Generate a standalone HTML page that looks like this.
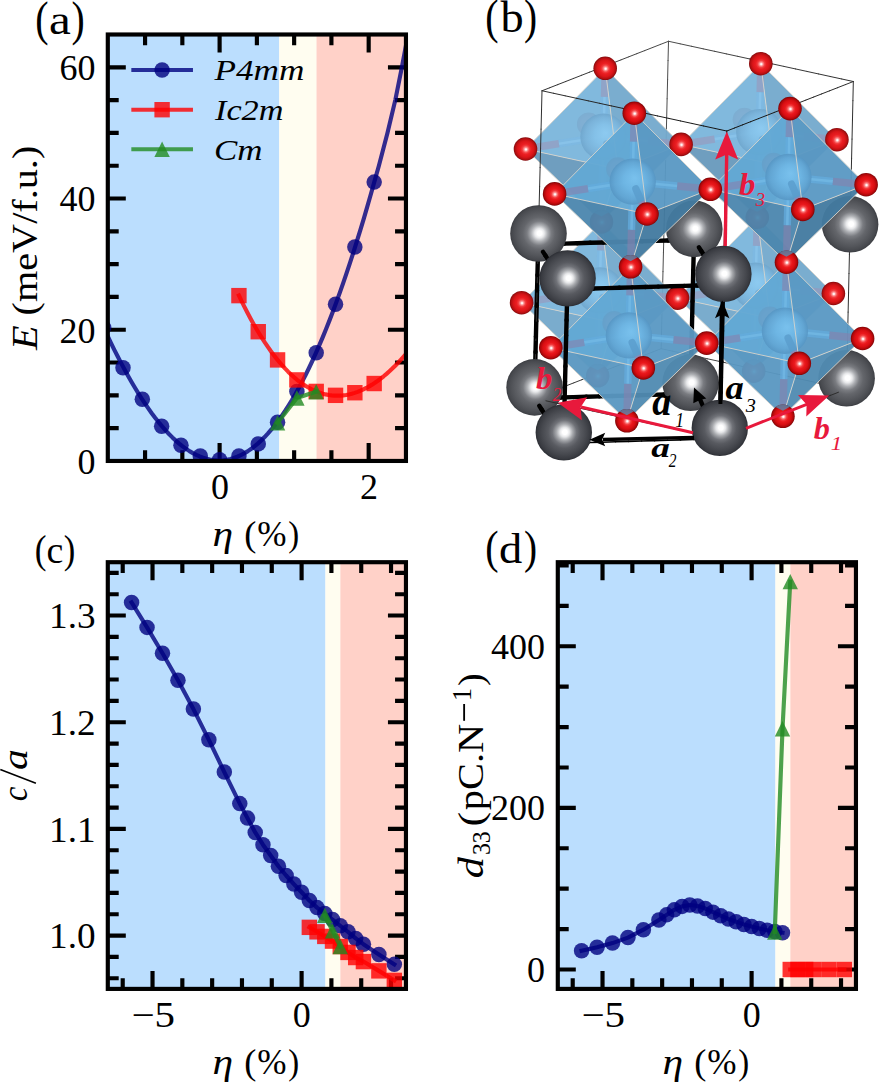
<!DOCTYPE html>
<html><head><meta charset="utf-8"><title>figure</title>
<style>html,body{margin:0;padding:0;background:#fff;}svg{display:block;}text{fill:#000;}</style></head>
<body><svg width="879" height="1083" viewBox="0 0 879 1083">
<defs><radialGradient id="gy0" cx="0.5" cy="0.5" r="0.5" fx="0.52" fy="0.495"><stop offset="0" stop-color="#ffffff"/><stop offset="0.085" stop-color="#ffffff"/><stop offset="0.17" stop-color="#e6e7e9"/><stop offset="0.29" stop-color="#a8aaae"/><stop offset="0.43" stop-color="#707278"/><stop offset="0.57" stop-color="#585a60"/><stop offset="0.79" stop-color="#46484e"/><stop offset="0.93" stop-color="#393b41"/><stop offset="1" stop-color="#2c2e34"/></radialGradient><radialGradient id="rd0" cx="0.5" cy="0.5" r="0.5" fx="0.52" fy="0.52"><stop offset="0" stop-color="#ffffff"/><stop offset="0.06" stop-color="#ffeeee"/><stop offset="0.16" stop-color="#fc8c8c"/><stop offset="0.3" stop-color="#f23a3c"/><stop offset="0.45" stop-color="#ea181c"/><stop offset="0.7" stop-color="#d80e12"/><stop offset="0.88" stop-color="#b0080a"/><stop offset="1" stop-color="#7c0406"/></radialGradient><radialGradient id="gy1" cx="0.5" cy="0.5" r="0.5" fx="0.52" fy="0.495"><stop offset="0" stop-color="#ffffff"/><stop offset="0.085" stop-color="#ffffff"/><stop offset="0.17" stop-color="#e8e9eb"/><stop offset="0.29" stop-color="#aeb0b4"/><stop offset="0.43" stop-color="#7a7c81"/><stop offset="0.57" stop-color="#64666b"/><stop offset="0.79" stop-color="#53555a"/><stop offset="0.93" stop-color="#47494e"/><stop offset="1" stop-color="#3b3d42"/></radialGradient><radialGradient id="rd1" cx="0.5" cy="0.5" r="0.5" fx="0.52" fy="0.52"><stop offset="0" stop-color="#fffdfd"/><stop offset="0.06" stop-color="#ffeded"/><stop offset="0.16" stop-color="#fc8e8e"/><stop offset="0.3" stop-color="#f23f41"/><stop offset="0.45" stop-color="#eb1e22"/><stop offset="0.7" stop-color="#d91518"/><stop offset="0.88" stop-color="#b30f11"/><stop offset="1" stop-color="#810b0d"/></radialGradient><radialGradient id="gy2" cx="0.5" cy="0.5" r="0.5" fx="0.52" fy="0.495"><stop offset="0" stop-color="#ffffff"/><stop offset="0.085" stop-color="#ffffff"/><stop offset="0.17" stop-color="#ebeced"/><stop offset="0.29" stop-color="#b9bbbe"/><stop offset="0.43" stop-color="#8d8e93"/><stop offset="0.57" stop-color="#797b80"/><stop offset="0.79" stop-color="#6b6d71"/><stop offset="0.93" stop-color="#616267"/><stop offset="1" stop-color="#56585d"/></radialGradient><radialGradient id="rd2" cx="0.5" cy="0.5" r="0.5" fx="0.52" fy="0.52"><stop offset="0" stop-color="#fffafa"/><stop offset="0.06" stop-color="#ffeaea"/><stop offset="0.16" stop-color="#fc9292"/><stop offset="0.3" stop-color="#f3484a"/><stop offset="0.45" stop-color="#ec2a2d"/><stop offset="0.7" stop-color="#dc2124"/><stop offset="0.88" stop-color="#b81b1d"/><stop offset="1" stop-color="#891819"/></radialGradient><radialGradient id="bs0" cx="0.5" cy="0.5" r="0.5" fx="0.55" fy="0.42"><stop offset="0" stop-color="#7ac2ee" stop-opacity="0.95"/><stop offset="0.45" stop-color="#6eb6e4" stop-opacity="0.95"/><stop offset="0.8" stop-color="#62a6d4" stop-opacity="0.93"/><stop offset="1" stop-color="#5696c4" stop-opacity="0.9"/></radialGradient><radialGradient id="bs1" cx="0.5" cy="0.5" r="0.5" fx="0.55" fy="0.42"><stop offset="0" stop-color="#8ecbf1" stop-opacity="0.95"/><stop offset="0.45" stop-color="#84c1e8" stop-opacity="0.95"/><stop offset="0.8" stop-color="#7ab3da" stop-opacity="0.93"/><stop offset="1" stop-color="#6fa6cd" stop-opacity="0.9"/></radialGradient><clipPath id="nc8"><circle cx="601.5" cy="221.9" r="11.8"/></clipPath><clipPath id="nc9"><circle cx="597.7" cy="375.8" r="11.8"/></clipPath><clipPath id="nc10"><circle cx="757.3" cy="217.3" r="11.8"/></clipPath><clipPath id="nc11"><circle cx="753.7" cy="371.2" r="11.8"/></clipPath><clipPath id="nc12"><circle cx="630.6" cy="266.8" r="11.8"/></clipPath><clipPath id="nc13"><circle cx="626.9" cy="420.8" r="11.8"/></clipPath><clipPath id="nc14"><circle cx="786.5" cy="262.2" r="11.8"/></clipPath><clipPath id="nc15"><circle cx="782.9" cy="416.3" r="11.8"/></clipPath></defs>
<rect width="879" height="1083" fill="#fff"/>
<clipPath id="ca"><rect x="107.8" y="34.5" width="298.15" height="426.45"/></clipPath><rect x="107.8" y="34.5" width="171.44" height="426.45" fill="#bbdefe"/><rect x="279.24" y="34.5" width="37.27" height="426.45" fill="#fffdf0"/><rect x="316.50" y="34.5" width="89.44" height="426.45" fill="#ffd1c8"/><g stroke="#000" stroke-width="4.15" fill="none"><path d="M219.61 460.95V442.95M219.61 34.50V52.50"/><path d="M368.68 460.95V442.95M368.68 34.50V52.50"/><path d="M145.07 460.95V450.25M145.07 34.50V45.20"/><path d="M182.34 460.95V450.25M182.34 34.50V45.20"/><path d="M256.88 460.95V450.25M256.88 34.50V45.20"/><path d="M294.14 460.95V450.25M294.14 34.50V45.20"/><path d="M331.41 460.95V450.25M331.41 34.50V45.20"/><path d="M107.80 460.95H125.80M405.95 460.95H387.95"/><path d="M107.80 329.73H125.80M405.95 329.73H387.95"/><path d="M107.80 198.52H125.80M405.95 198.52H387.95"/><path d="M107.80 67.30H125.80M405.95 67.30H387.95"/><path d="M107.80 428.15H118.70M405.95 428.15H395.05"/><path d="M107.80 395.34H118.70M405.95 395.34H395.05"/><path d="M107.80 362.54H118.70M405.95 362.54H395.05"/><path d="M107.80 296.93H118.70M405.95 296.93H395.05"/><path d="M107.80 264.13H118.70M405.95 264.13H395.05"/><path d="M107.80 231.32H118.70M405.95 231.32H395.05"/><path d="M107.80 165.72H118.70M405.95 165.72H395.05"/><path d="M107.80 132.91H118.70M405.95 132.91H395.05"/><path d="M107.80 100.11H118.70M405.95 100.11H395.05"/></g><g clip-path="url(#ca)"><path d="M104.07 328.45 L107.49 335.75 L110.90 342.87 L114.32 349.81 L117.74 356.56 L121.15 363.14 L124.57 369.52 L127.98 375.71 L131.40 381.71 L134.81 387.51 L138.23 393.10 L141.64 398.50 L145.06 403.68 L148.47 408.66 L151.89 413.43 L155.31 417.98 L158.72 422.31 L162.14 426.42 L165.55 430.31 L168.97 433.97 L172.38 437.41 L175.80 440.62 L179.21 443.59 L182.63 446.33 L186.05 448.84 L189.46 451.11 L192.88 453.13 L196.29 454.91 L199.71 456.45 L203.12 457.74 L206.54 458.79 L209.95 459.58 L213.37 460.12 L216.79 460.41 L220.20 460.45 L223.62 460.22 L227.03 459.74 L230.45 459.00 L233.86 458.00 L237.28 456.74 L240.69 455.22 L244.11 453.43 L247.52 451.37 L250.94 449.05 L254.36 446.46 L257.77 443.60 L261.19 440.47 L264.60 437.07 L268.02 433.40 L271.43 429.46 L274.85 425.24 L278.26 420.75 L281.68 415.99 L285.10 410.96 L288.51 405.64 L291.93 400.06 L295.34 394.19 L298.76 388.06 L302.17 381.64 L305.59 374.95 L309.00 367.98 L312.42 360.74 L315.84 353.22 L319.25 345.42 L322.67 337.35 L326.08 329.00 L329.50 320.37 L332.91 311.47 L336.33 302.30 L339.74 292.84 L343.16 283.12 L346.57 273.12 L349.99 262.84 L353.41 252.30 L356.82 241.48 L360.24 230.39 L363.65 219.03 L367.07 207.40 L370.48 195.50 L373.90 183.33 L378.89 165.72 L387.46 132.91 L395.29 100.11 L401.85 67.30 L405.95 45.65 L410.42 21.38" fill="none" stroke="#000080" stroke-width="4.15" stroke-opacity="0.8" stroke-linejoin="round" stroke-linecap="square"/><circle cx="123.01" cy="367.79" r="7.75" fill="#000080" fill-opacity="0.8"/><circle cx="142.33" cy="399.28" r="7.75" fill="#000080" fill-opacity="0.8"/><circle cx="161.65" cy="426.18" r="7.75" fill="#000080" fill-opacity="0.8"/><circle cx="180.97" cy="445.20" r="7.75" fill="#000080" fill-opacity="0.8"/><circle cx="200.29" cy="456.03" r="7.75" fill="#000080" fill-opacity="0.8"/><circle cx="219.61" cy="459.64" r="7.75" fill="#000080" fill-opacity="0.8"/><circle cx="238.93" cy="455.96" r="7.75" fill="#000080" fill-opacity="0.8"/><circle cx="258.25" cy="443.89" r="7.75" fill="#000080" fill-opacity="0.8"/><circle cx="277.57" cy="422.24" r="7.75" fill="#000080" fill-opacity="0.8"/><circle cx="296.89" cy="391.41" r="7.75" fill="#000080" fill-opacity="0.8"/><circle cx="316.21" cy="352.70" r="7.75" fill="#000080" fill-opacity="0.8"/><circle cx="335.53" cy="304.15" r="7.75" fill="#000080" fill-opacity="0.8"/><circle cx="354.85" cy="247.07" r="7.75" fill="#000080" fill-opacity="0.8"/><circle cx="374.17" cy="182.12" r="7.75" fill="#000080" fill-opacity="0.8"/><circle cx="103.69" cy="327.61" r="7.75" fill="#000080" fill-opacity="0.8"/><path d="M238.93 295.50 L241.82 301.53 L244.71 307.35 L247.61 312.98 L250.50 318.42 L253.40 323.65 L256.29 328.70 L259.18 333.55 L262.08 338.20 L264.97 342.67 L267.87 346.94 L270.76 351.03 L273.66 354.93 L276.55 358.64 L279.44 362.17 L282.34 365.51 L285.23 368.67 L288.13 371.65 L291.02 374.45 L293.91 377.07 L296.81 379.51 L299.70 381.77 L302.60 383.86 L305.49 385.78 L308.38 387.52 L311.28 389.09 L314.17 390.49 L317.07 391.72 L319.96 392.78 L322.85 393.67 L325.75 394.40 L328.64 394.96 L331.54 395.37 L334.43 395.61 L337.32 395.69 L340.22 395.61 L343.11 395.37 L346.01 394.98 L348.90 394.43 L351.80 393.73 L354.69 392.88 L357.58 391.87 L360.48 390.72 L363.37 389.42 L366.27 387.97 L369.16 386.38 L372.05 384.64 L374.95 382.76 L377.84 380.74 L380.74 378.58 L383.63 376.28 L386.52 373.84 L389.42 371.27 L392.31 368.57 L395.21 365.73 L398.10 362.76 L400.99 359.66 L403.89 356.44 L406.78 353.09 L409.68 349.61" fill="none" stroke="#ff0000" stroke-width="4.15" stroke-opacity="0.8" stroke-linejoin="round" stroke-linecap="square"/><rect x="231.23" y="287.92" width="15.4" height="15.4" fill="#ff0000" fill-opacity="0.8"/><rect x="250.55" y="324.00" width="15.4" height="15.4" fill="#ff0000" fill-opacity="0.8"/><rect x="269.87" y="352.21" width="15.4" height="15.4" fill="#ff0000" fill-opacity="0.8"/><rect x="289.19" y="372.22" width="15.4" height="15.4" fill="#ff0000" fill-opacity="0.8"/><rect x="308.51" y="383.71" width="15.4" height="15.4" fill="#ff0000" fill-opacity="0.8"/><rect x="327.83" y="387.64" width="15.4" height="15.4" fill="#ff0000" fill-opacity="0.8"/><rect x="347.15" y="385.02" width="15.4" height="15.4" fill="#ff0000" fill-opacity="0.8"/><rect x="366.47" y="375.83" width="15.4" height="15.4" fill="#ff0000" fill-opacity="0.8"/><path d="M277.57 422.90 L296.89 397.97 L316.21 391.73" fill="none" stroke="#228b22" stroke-width="4.15" stroke-opacity="0.8" stroke-linejoin="round" stroke-linecap="square"/><path d="M277.57 415.20L285.27 430.60H269.87Z" fill="#228b22" fill-opacity="0.8"/><path d="M296.89 390.27L304.59 405.67H289.19Z" fill="#228b22" fill-opacity="0.8"/><path d="M316.21 384.03L323.91 399.43H308.51Z" fill="#228b22" fill-opacity="0.8"/></g><rect x="107.8" y="34.5" width="298.15" height="426.45" fill="none" stroke="#000" stroke-width="4.15"/><path d="M133.40 70.00 L190.90 70.00" fill="none" stroke="#000080" stroke-width="4.15" stroke-opacity="0.8" stroke-linejoin="round" stroke-linecap="square"/><circle cx="162.10" cy="70.00" r="7.75" fill="#000080" fill-opacity="0.8"/><path d="M133.40 109.70 L190.90 109.70" fill="none" stroke="#ff0000" stroke-width="4.15" stroke-opacity="0.8" stroke-linejoin="round" stroke-linecap="square"/><rect x="154.40" y="102.00" width="15.4" height="15.4" fill="#ff0000" fill-opacity="0.8"/><path d="M133.40 149.20 L190.90 149.20" fill="none" stroke="#228b22" stroke-width="4.15" stroke-opacity="0.8" stroke-linejoin="round" stroke-linecap="square"/><path d="M162.10 141.50L169.80 156.90H154.40Z" fill="#228b22" fill-opacity="0.8"/><text x="214.50" y="80.00" style="font-family:'Liberation Serif',serif;font-size:29.5px;font-style:italic;" text-anchor="start" textLength="90.0" lengthAdjust="spacingAndGlyphs">P4mm</text><text x="215.00" y="120.00" style="font-family:'Liberation Serif',serif;font-size:29.5px;font-style:italic;" text-anchor="start" textLength="68.5" lengthAdjust="spacingAndGlyphs">Ic2m</text><text x="214.00" y="159.60" style="font-family:'Liberation Serif',serif;font-size:29.5px;font-style:italic;" text-anchor="start" textLength="48.5" lengthAdjust="spacingAndGlyphs">Cm</text><text x="95.40" y="473.85" style="font-family:'Liberation Serif',serif;font-size:36px;" text-anchor="end">0</text><text x="95.40" y="342.63" style="font-family:'Liberation Serif',serif;font-size:36px;" text-anchor="end">20</text><text x="95.40" y="211.42" style="font-family:'Liberation Serif',serif;font-size:36px;" text-anchor="end">40</text><text x="95.40" y="80.20" style="font-family:'Liberation Serif',serif;font-size:36px;" text-anchor="end">60</text><text x="219.91" y="498.80" style="font-family:'Liberation Serif',serif;font-size:36px;" text-anchor="middle">0</text><text x="368.98" y="498.80" style="font-family:'Liberation Serif',serif;font-size:36px;" text-anchor="middle">2</text><text x="212.55" y="546.30" style="font-family:'Liberation Serif',serif;font-size:36px;font-style:italic;" textLength="20.60" lengthAdjust="spacingAndGlyphs">η</text><text x="244.38" y="546.30" style="font-family:'Liberation Serif',serif;font-size:36px;;" textLength="12.13" lengthAdjust="spacingAndGlyphs">(</text><text x="257.32" y="546.30" style="font-family:'Liberation Serif',serif;font-size:36px;;" textLength="29.25" lengthAdjust="spacingAndGlyphs">%</text><text x="288.29" y="546.30" style="font-family:'Liberation Serif',serif;font-size:36px;;" textLength="10.92" lengthAdjust="spacingAndGlyphs">)</text><g transform="translate(37.3 350.0) rotate(-90)"><text x="0.00" y="0.00" style="font-family:'Liberation Serif',serif;font-size:36px;" text-anchor="start" textLength="204.3" lengthAdjust="spacingAndGlyphs"><tspan style="font-style:italic">E</tspan> (meV/f.u.)</text></g><text transform="translate(37.10 34.82) scale(0.833 1)" x="-2.16" y="0" style="font-family:'Liberation Serif',serif;font-size:48.00px;">(</text><text transform="translate(72.60 34.82) scale(0.825 1)" x="-1.44" y="0" style="font-family:'Liberation Serif',serif;font-size:48.00px;">)</text><text transform="translate(50.70 34.28) scale(1.172 1)" x="-1.47" y="0" style="font-family:'Liberation Serif',serif;font-size:41.89px;">a</text><text transform="translate(487.10 32.90) scale(0.831 1)" x="-2.17" y="0" style="font-family:'Liberation Serif',serif;font-size:48.11px;">(</text><text transform="translate(525.20 32.90) scale(0.815 1)" x="-1.44" y="0" style="font-family:'Liberation Serif',serif;font-size:48.11px;">)</text><text transform="translate(500.50 32.46) scale(1.059 1)" x="-0.00" y="0" style="font-family:'Liberation Serif',serif;font-size:43.71px;">b</text><clipPath id="cc"><rect x="107.8" y="562.2" width="298.15" height="426.70"/></clipPath><rect x="107.8" y="562.2" width="217.65" height="426.70" fill="#bbdefe"/><rect x="325.45" y="562.2" width="14.91" height="426.70" fill="#fffdf0"/><rect x="340.36" y="562.2" width="65.59" height="426.70" fill="#ffd1c8"/><g stroke="#000" stroke-width="4.15" fill="none"><path d="M152.52 988.90V970.90M152.52 562.20V580.20"/><path d="M301.60 988.90V970.90M301.60 562.20V580.20"/><path d="M122.71 988.90V978.20M122.71 562.20V572.90"/><path d="M182.34 988.90V978.20M182.34 562.20V572.90"/><path d="M212.15 988.90V978.20M212.15 562.20V572.90"/><path d="M241.97 988.90V978.20M241.97 562.20V572.90"/><path d="M271.78 988.90V978.20M271.78 562.20V572.90"/><path d="M331.41 988.90V978.20M331.41 562.20V572.90"/><path d="M361.23 988.90V978.20M361.23 562.20V572.90"/><path d="M391.04 988.90V978.20M391.04 562.20V572.90"/><path d="M107.80 935.56H125.80M405.95 935.56H387.95"/><path d="M107.80 828.89H125.80M405.95 828.89H387.95"/><path d="M107.80 722.21H125.80M405.95 722.21H387.95"/><path d="M107.80 615.54H125.80M405.95 615.54H387.95"/><path d="M107.80 978.23H118.70M405.95 978.23H395.05"/><path d="M107.80 956.90H118.70M405.95 956.90H395.05"/><path d="M107.80 914.23H118.70M405.95 914.23H395.05"/><path d="M107.80 892.89H118.70M405.95 892.89H395.05"/><path d="M107.80 871.56H118.70M405.95 871.56H395.05"/><path d="M107.80 850.22H118.70M405.95 850.22H395.05"/><path d="M107.80 807.55H118.70M405.95 807.55H395.05"/><path d="M107.80 786.22H118.70M405.95 786.22H395.05"/><path d="M107.80 764.88H118.70M405.95 764.88H395.05"/><path d="M107.80 743.55H118.70M405.95 743.55H395.05"/><path d="M107.80 700.88H118.70M405.95 700.88H395.05"/><path d="M107.80 679.54H118.70M405.95 679.54H395.05"/><path d="M107.80 658.21H118.70M405.95 658.21H395.05"/><path d="M107.80 636.87H118.70M405.95 636.87H395.05"/><path d="M107.80 594.20H118.70M405.95 594.20H395.05"/><path d="M107.80 572.87H118.70M405.95 572.87H395.05"/></g><g clip-path="url(#cc)"><path d="M131.58 602.42 L147.04 627.38 L162.49 653.30 L177.95 680.29 L193.40 709.09 L208.86 739.81 L224.32 772.03 L239.77 803.61 L247.50 818.11 L255.23 832.41 L262.96 844.68 L270.69 855.56 L278.41 866.22 L286.14 875.50 L293.87 884.04 L301.60 892.25 L309.33 900.47 L317.05 907.61 L324.78 913.48 L332.51 919.56 L340.24 925.75 L347.97 931.83 L355.69 938.44 L363.42 944.20 L378.88 954.44 L394.33 964.36" fill="none" stroke="#000080" stroke-width="4.15" stroke-opacity="0.8" stroke-linejoin="round" stroke-linecap="square"/><circle cx="131.58" cy="602.42" r="7.75" fill="#000080" fill-opacity="0.8"/><circle cx="147.04" cy="627.38" r="7.75" fill="#000080" fill-opacity="0.8"/><circle cx="162.49" cy="653.30" r="7.75" fill="#000080" fill-opacity="0.8"/><circle cx="177.95" cy="680.29" r="7.75" fill="#000080" fill-opacity="0.8"/><circle cx="193.40" cy="709.09" r="7.75" fill="#000080" fill-opacity="0.8"/><circle cx="208.86" cy="739.81" r="7.75" fill="#000080" fill-opacity="0.8"/><circle cx="224.32" cy="772.03" r="7.75" fill="#000080" fill-opacity="0.8"/><circle cx="239.77" cy="803.61" r="7.75" fill="#000080" fill-opacity="0.8"/><circle cx="247.50" cy="818.11" r="7.75" fill="#000080" fill-opacity="0.8"/><circle cx="255.23" cy="832.41" r="7.75" fill="#000080" fill-opacity="0.8"/><circle cx="262.96" cy="844.68" r="7.75" fill="#000080" fill-opacity="0.8"/><circle cx="270.69" cy="855.56" r="7.75" fill="#000080" fill-opacity="0.8"/><circle cx="278.41" cy="866.22" r="7.75" fill="#000080" fill-opacity="0.8"/><circle cx="286.14" cy="875.50" r="7.75" fill="#000080" fill-opacity="0.8"/><circle cx="293.87" cy="884.04" r="7.75" fill="#000080" fill-opacity="0.8"/><circle cx="301.60" cy="892.25" r="7.75" fill="#000080" fill-opacity="0.8"/><circle cx="309.33" cy="900.47" r="7.75" fill="#000080" fill-opacity="0.8"/><circle cx="317.05" cy="907.61" r="7.75" fill="#000080" fill-opacity="0.8"/><circle cx="324.78" cy="913.48" r="7.75" fill="#000080" fill-opacity="0.8"/><circle cx="332.51" cy="919.56" r="7.75" fill="#000080" fill-opacity="0.8"/><circle cx="340.24" cy="925.75" r="7.75" fill="#000080" fill-opacity="0.8"/><circle cx="347.97" cy="931.83" r="7.75" fill="#000080" fill-opacity="0.8"/><circle cx="355.69" cy="938.44" r="7.75" fill="#000080" fill-opacity="0.8"/><circle cx="363.42" cy="944.20" r="7.75" fill="#000080" fill-opacity="0.8"/><circle cx="378.88" cy="954.44" r="7.75" fill="#000080" fill-opacity="0.8"/><circle cx="394.33" cy="964.36" r="7.75" fill="#000080" fill-opacity="0.8"/><path d="M309.33 927.35 L317.05 931.83 L324.78 936.42 L332.51 941.11 L340.24 946.55 L347.97 952.42 L355.69 957.54 L363.42 961.59 L378.88 970.87 L394.33 980.37" fill="none" stroke="#ff0000" stroke-width="4.15" stroke-opacity="0.8" stroke-linejoin="round" stroke-linecap="square"/><rect x="301.63" y="919.65" width="15.4" height="15.4" fill="#ff0000" fill-opacity="0.8"/><rect x="309.35" y="924.13" width="15.4" height="15.4" fill="#ff0000" fill-opacity="0.8"/><rect x="317.08" y="928.72" width="15.4" height="15.4" fill="#ff0000" fill-opacity="0.8"/><rect x="324.81" y="933.41" width="15.4" height="15.4" fill="#ff0000" fill-opacity="0.8"/><rect x="332.54" y="938.85" width="15.4" height="15.4" fill="#ff0000" fill-opacity="0.8"/><rect x="340.27" y="944.72" width="15.4" height="15.4" fill="#ff0000" fill-opacity="0.8"/><rect x="347.99" y="949.84" width="15.4" height="15.4" fill="#ff0000" fill-opacity="0.8"/><rect x="355.72" y="953.89" width="15.4" height="15.4" fill="#ff0000" fill-opacity="0.8"/><rect x="371.18" y="963.17" width="15.4" height="15.4" fill="#ff0000" fill-opacity="0.8"/><rect x="386.63" y="972.67" width="15.4" height="15.4" fill="#ff0000" fill-opacity="0.8"/><path d="M324.78 915.40 L332.51 930.87 L340.24 946.55" fill="none" stroke="#228b22" stroke-width="4.15" stroke-opacity="0.8" stroke-linejoin="round" stroke-linecap="square"/><path d="M324.78 907.70L332.48 923.10H317.08Z" fill="#228b22" fill-opacity="0.8"/><path d="M332.51 923.17L340.21 938.57H324.81Z" fill="#228b22" fill-opacity="0.8"/><path d="M340.24 938.85L347.94 954.25H332.54Z" fill="#228b22" fill-opacity="0.8"/></g><rect x="107.8" y="562.2" width="298.15" height="426.70" fill="none" stroke="#000" stroke-width="4.15"/><text x="95.60" y="948.46" style="font-family:'Liberation Serif',serif;font-size:36px;" text-anchor="end" textLength="46.5" lengthAdjust="spacingAndGlyphs">1.0</text><text x="95.60" y="841.79" style="font-family:'Liberation Serif',serif;font-size:36px;" text-anchor="end" textLength="46.5" lengthAdjust="spacingAndGlyphs">1.1</text><text x="95.60" y="735.11" style="font-family:'Liberation Serif',serif;font-size:36px;" text-anchor="end" textLength="46.5" lengthAdjust="spacingAndGlyphs">1.2</text><text x="95.60" y="628.44" style="font-family:'Liberation Serif',serif;font-size:36px;" text-anchor="end" textLength="46.5" lengthAdjust="spacingAndGlyphs">1.3</text><text x="153.32" y="1026.60" style="font-family:'Liberation Serif',serif;font-size:36px;" text-anchor="middle" textLength="43.5" lengthAdjust="spacingAndGlyphs">−5</text><text x="301.80" y="1026.60" style="font-family:'Liberation Serif',serif;font-size:36px;" text-anchor="middle">0</text><text x="212.55" y="1074.00" style="font-family:'Liberation Serif',serif;font-size:36px;font-style:italic;" textLength="20.60" lengthAdjust="spacingAndGlyphs">η</text><text x="244.38" y="1074.00" style="font-family:'Liberation Serif',serif;font-size:36px;;" textLength="12.13" lengthAdjust="spacingAndGlyphs">(</text><text x="257.32" y="1074.00" style="font-family:'Liberation Serif',serif;font-size:36px;;" textLength="29.25" lengthAdjust="spacingAndGlyphs">%</text><text x="288.29" y="1074.00" style="font-family:'Liberation Serif',serif;font-size:36px;;" textLength="10.92" lengthAdjust="spacingAndGlyphs">)</text><g transform="translate(27.3 801.0) rotate(-90)"><text x="-0.32" y="0.00" style="font-family:'Liberation Serif',serif;font-size:36px;font-style:italic;" textLength="14.71" lengthAdjust="spacingAndGlyphs">c</text><path d="M17.8 8.6L31.4 -27.0" stroke="#000" stroke-width="1.6" fill="none"/><text x="31.04" y="0.00" style="font-family:'Liberation Serif',serif;font-size:36px;font-style:italic;" textLength="20.92" lengthAdjust="spacingAndGlyphs">a</text></g><text transform="translate(36.30 562.86) scale(0.868 1)" x="-1.83" y="0" style="font-family:'Liberation Serif',serif;font-size:40.67px;">(</text><text transform="translate(64.70 562.86) scale(0.851 1)" x="-1.22" y="0" style="font-family:'Liberation Serif',serif;font-size:40.67px;">)</text><text transform="translate(47.90 562.83) scale(1.015 1)" x="-1.49" y="0" style="font-family:'Liberation Serif',serif;font-size:37.29px;">c</text><clipPath id="cd"><rect x="557.8" y="562.2" width="298.15" height="426.70"/></clipPath><rect x="557.8" y="562.2" width="217.65" height="426.70" fill="#bbdefe"/><rect x="775.45" y="562.2" width="14.91" height="426.70" fill="#fffdf0"/><rect x="790.36" y="562.2" width="65.59" height="426.70" fill="#ffd1c8"/><g stroke="#000" stroke-width="4.15" fill="none"><path d="M602.52 988.90V970.90M602.52 562.20V580.20"/><path d="M751.60 988.90V970.90M751.60 562.20V580.20"/><path d="M572.71 988.90V978.20M572.71 562.20V572.90"/><path d="M632.34 988.90V978.20M632.34 562.20V572.90"/><path d="M662.15 988.90V978.20M662.15 562.20V572.90"/><path d="M691.97 988.90V978.20M691.97 562.20V572.90"/><path d="M721.78 988.90V978.20M721.78 562.20V572.90"/><path d="M781.41 988.90V978.20M781.41 562.20V572.90"/><path d="M811.23 988.90V978.20M811.23 562.20V572.90"/><path d="M841.04 988.90V978.20M841.04 562.20V572.90"/><path d="M557.80 969.50H575.80M855.95 969.50H837.95"/><path d="M557.80 807.88H575.80M855.95 807.88H837.95"/><path d="M557.80 646.25H575.80M855.95 646.25H837.95"/><path d="M557.80 929.10H568.70M855.95 929.10H845.05"/><path d="M557.80 888.69H568.70M855.95 888.69H845.05"/><path d="M557.80 848.28H568.70M855.95 848.28H845.05"/><path d="M557.80 767.47H568.70M855.95 767.47H845.05"/><path d="M557.80 727.06H568.70M855.95 727.06H845.05"/><path d="M557.80 686.65H568.70M855.95 686.65H845.05"/><path d="M557.80 605.84H568.70M855.95 605.84H845.05"/><path d="M557.80 565.43H568.70M855.95 565.43H845.05"/></g><g clip-path="url(#cd)"><path d="M581.58 950.67 L597.04 947.20 L612.49 943.08 L627.95 937.58 L643.40 929.66 L658.86 920.05 L666.59 914.87 L674.32 909.86 L682.05 906.39 L689.77 905.01 L697.50 905.90 L705.23 908.57 L712.96 912.13 L720.69 915.68 L728.41 919.00 L736.14 921.74 L743.87 924.41 L751.60 926.59 L759.33 928.53 L767.05 930.23 L774.78 931.52 L782.51 932.65" fill="none" stroke="#000080" stroke-width="4.15" stroke-opacity="0.8" stroke-linejoin="round" stroke-linecap="square"/><circle cx="581.58" cy="950.67" r="7.75" fill="#000080" fill-opacity="0.8"/><circle cx="597.04" cy="947.20" r="7.75" fill="#000080" fill-opacity="0.8"/><circle cx="612.49" cy="943.08" r="7.75" fill="#000080" fill-opacity="0.8"/><circle cx="627.95" cy="937.58" r="7.75" fill="#000080" fill-opacity="0.8"/><circle cx="643.40" cy="929.66" r="7.75" fill="#000080" fill-opacity="0.8"/><circle cx="658.86" cy="920.05" r="7.75" fill="#000080" fill-opacity="0.8"/><circle cx="666.59" cy="914.87" r="7.75" fill="#000080" fill-opacity="0.8"/><circle cx="674.32" cy="909.86" r="7.75" fill="#000080" fill-opacity="0.8"/><circle cx="682.05" cy="906.39" r="7.75" fill="#000080" fill-opacity="0.8"/><circle cx="689.77" cy="905.01" r="7.75" fill="#000080" fill-opacity="0.8"/><circle cx="697.50" cy="905.90" r="7.75" fill="#000080" fill-opacity="0.8"/><circle cx="705.23" cy="908.57" r="7.75" fill="#000080" fill-opacity="0.8"/><circle cx="712.96" cy="912.13" r="7.75" fill="#000080" fill-opacity="0.8"/><circle cx="720.69" cy="915.68" r="7.75" fill="#000080" fill-opacity="0.8"/><circle cx="728.41" cy="919.00" r="7.75" fill="#000080" fill-opacity="0.8"/><circle cx="736.14" cy="921.74" r="7.75" fill="#000080" fill-opacity="0.8"/><circle cx="743.87" cy="924.41" r="7.75" fill="#000080" fill-opacity="0.8"/><circle cx="751.60" cy="926.59" r="7.75" fill="#000080" fill-opacity="0.8"/><circle cx="759.33" cy="928.53" r="7.75" fill="#000080" fill-opacity="0.8"/><circle cx="767.05" cy="930.23" r="7.75" fill="#000080" fill-opacity="0.8"/><circle cx="774.78" cy="931.52" r="7.75" fill="#000080" fill-opacity="0.8"/><circle cx="782.51" cy="932.65" r="7.75" fill="#000080" fill-opacity="0.8"/><path d="M790.24 969.50 L797.97 969.50 L805.69 969.50 L813.42 969.50 L828.88 969.50 L844.33 969.50" fill="none" stroke="#ff0000" stroke-width="4.15" stroke-opacity="0.8" stroke-linejoin="round" stroke-linecap="square"/><rect x="782.54" y="961.80" width="15.4" height="15.4" fill="#ff0000" fill-opacity="0.8"/><rect x="790.27" y="961.80" width="15.4" height="15.4" fill="#ff0000" fill-opacity="0.8"/><rect x="797.99" y="961.80" width="15.4" height="15.4" fill="#ff0000" fill-opacity="0.8"/><rect x="805.72" y="961.80" width="15.4" height="15.4" fill="#ff0000" fill-opacity="0.8"/><rect x="821.18" y="961.80" width="15.4" height="15.4" fill="#ff0000" fill-opacity="0.8"/><rect x="836.63" y="961.80" width="15.4" height="15.4" fill="#ff0000" fill-opacity="0.8"/><path d="M774.78 931.93 L782.51 728.68 L790.24 581.60" fill="none" stroke="#228b22" stroke-width="4.15" stroke-opacity="0.8" stroke-linejoin="round" stroke-linecap="square"/><path d="M774.78 924.23L782.48 939.63H767.08Z" fill="#228b22" fill-opacity="0.8"/><path d="M782.51 720.98L790.21 736.38H774.81Z" fill="#228b22" fill-opacity="0.8"/><path d="M790.24 573.90L797.94 589.30H782.54Z" fill="#228b22" fill-opacity="0.8"/></g><rect x="557.8" y="562.2" width="298.15" height="426.70" fill="none" stroke="#000" stroke-width="4.15"/><text x="545.00" y="981.80" style="font-family:'Liberation Serif',serif;font-size:36px;" text-anchor="end">0</text><text x="545.00" y="820.18" style="font-family:'Liberation Serif',serif;font-size:36px;" text-anchor="end">200</text><text x="545.00" y="658.55" style="font-family:'Liberation Serif',serif;font-size:36px;" text-anchor="end">400</text><text x="603.32" y="1026.60" style="font-family:'Liberation Serif',serif;font-size:36px;" text-anchor="middle" textLength="43.5" lengthAdjust="spacingAndGlyphs">−5</text><text x="751.80" y="1026.60" style="font-family:'Liberation Serif',serif;font-size:36px;" text-anchor="middle">0</text><text x="662.55" y="1074.00" style="font-family:'Liberation Serif',serif;font-size:36px;font-style:italic;" textLength="20.60" lengthAdjust="spacingAndGlyphs">η</text><text x="694.38" y="1074.00" style="font-family:'Liberation Serif',serif;font-size:36px;;" textLength="12.13" lengthAdjust="spacingAndGlyphs">(</text><text x="707.33" y="1074.00" style="font-family:'Liberation Serif',serif;font-size:36px;;" textLength="29.25" lengthAdjust="spacingAndGlyphs">%</text><text x="738.29" y="1074.00" style="font-family:'Liberation Serif',serif;font-size:36px;;" textLength="10.92" lengthAdjust="spacingAndGlyphs">)</text><g transform="translate(482.9 877.5) rotate(-90)"><text x="-0.68" y="0.00" style="font-family:'Liberation Serif',serif;font-size:36px;font-style:italic;" textLength="21.18" lengthAdjust="spacingAndGlyphs">d</text><text x="22.56" y="6.60" style="font-family:'Liberation Serif',serif;font-size:25px;;" textLength="23.59" lengthAdjust="spacingAndGlyphs">33</text><text x="51.06" y="0.00" style="font-family:'Liberation Serif',serif;font-size:36px;;" textLength="14.67" lengthAdjust="spacingAndGlyphs">(</text><text x="67.38" y="0.00" style="font-family:'Liberation Serif',serif;font-size:36px;;" textLength="86.26" lengthAdjust="spacingAndGlyphs">pC.N</text><rect x="156.7" y="-19.7" width="16.8" height="1.85" fill="#000"/><text x="176.50" y="-12.00" style="font-family:'Liberation Serif',serif;font-size:26.4px;;" textLength="13.20" lengthAdjust="spacingAndGlyphs">1</text><text x="191.45" y="0.00" style="font-family:'Liberation Serif',serif;font-size:36px;;" textLength="12.60" lengthAdjust="spacingAndGlyphs">)</text></g><text transform="translate(487.10 562.84) scale(0.843 1)" x="-2.13" y="0" style="font-family:'Liberation Serif',serif;font-size:47.44px;">(</text><text transform="translate(525.20 562.84) scale(0.827 1)" x="-1.42" y="0" style="font-family:'Liberation Serif',serif;font-size:47.44px;">)</text><text transform="translate(500.70 562.57) scale(1.082 1)" x="-1.50" y="0" style="font-family:'Liberation Serif',serif;font-size:42.86px;">d</text>
<g><path d="M661.15 348.68L661.61 329.43" stroke="#4c4c4c" stroke-width="1.0" stroke-linecap="round"/><path d="M661.61 329.43L662.07 310.18" stroke="#4c4c4c" stroke-width="1.0" stroke-linecap="round"/><path d="M662.07 310.18L662.53 290.94" stroke="#4c4c4c" stroke-width="1.0" stroke-linecap="round"/><path d="M662.53 290.94L662.99 271.70" stroke="#4c4c4c" stroke-width="1.0" stroke-linecap="round"/><path d="M662.99 271.70L663.45 252.47" stroke="#4c4c4c" stroke-width="1.0" stroke-linecap="round"/><path d="M663.45 252.47L663.91 233.25" stroke="#4c4c4c" stroke-width="1.0" stroke-linecap="round"/><path d="M663.91 233.25L664.37 214.02" stroke="#4c4c4c" stroke-width="1.0" stroke-linecap="round"/><path d="M664.37 214.02L664.83 194.81" stroke="#4c4c4c" stroke-width="1.0" stroke-linecap="round"/><path d="M664.83 194.81L665.29 175.60" stroke="#4c4c4c" stroke-width="1.0" stroke-linecap="round"/><path d="M665.29 175.60L665.75 156.39" stroke="#4c4c4c" stroke-width="1.0" stroke-linecap="round"/><path d="M665.75 156.39L666.21 137.19" stroke="#4c4c4c" stroke-width="1.0" stroke-linecap="round"/><path d="M666.21 137.19L666.67 118.00" stroke="#4c4c4c" stroke-width="1.0" stroke-linecap="round"/><path d="M666.67 118.00L667.13 98.81" stroke="#4c4c4c" stroke-width="1.0" stroke-linecap="round"/><path d="M667.13 98.81L667.59 79.63" stroke="#4c4c4c" stroke-width="1.0" stroke-linecap="round"/><path d="M667.59 79.63L668.05 60.45" stroke="#4c4c4c" stroke-width="1.0" stroke-linecap="round"/><path d="M668.05 60.45L668.51 41.28" stroke="#4c4c4c" stroke-width="1.0" stroke-linecap="round"/><path d="M672.72 351.21L661.15 348.68" stroke="#4b4b4b" stroke-width="1.0" stroke-linecap="round"/><path d="M661.15 348.68L653.23 351.78" stroke="#4b4b4b" stroke-width="1.0" stroke-linecap="round"/><path d="M680.06 43.79L668.51 41.28" stroke="#4b4b4b" stroke-width="1.0" stroke-linecap="round"/><path d="M668.51 41.28L660.60 44.37" stroke="#4b4b4b" stroke-width="1.0" stroke-linecap="round"/><path d="M684.30 353.74L672.72 351.21" stroke="#494949" stroke-width="1.0" stroke-linecap="round"/><path d="M653.23 351.78L645.30 354.88" stroke="#494949" stroke-width="1.0" stroke-linecap="round"/><path d="M691.60 46.31L680.06 43.79" stroke="#494949" stroke-width="1.0" stroke-linecap="round"/><path d="M660.60 44.37L652.70 47.46" stroke="#494949" stroke-width="1.0" stroke-linecap="round"/><path d="M695.87 356.27L684.30 353.74" stroke="#474747" stroke-width="1.0" stroke-linecap="round"/><path d="M645.30 354.88L637.38 357.98" stroke="#474747" stroke-width="1.0" stroke-linecap="round"/><path d="M703.15 48.82L691.60 46.31" stroke="#474747" stroke-width="1.0" stroke-linecap="round"/><path d="M652.70 47.46L644.79 50.56" stroke="#474747" stroke-width="1.0" stroke-linecap="round"/><path d="M707.44 358.80L695.87 356.27" stroke="#454545" stroke-width="1.0" stroke-linecap="round"/><path d="M637.38 357.98L629.46 361.08" stroke="#454545" stroke-width="1.0" stroke-linecap="round"/><path d="M714.70 51.33L703.15 48.82" stroke="#454545" stroke-width="1.0" stroke-linecap="round"/><path d="M644.79 50.56L636.88 53.65" stroke="#454545" stroke-width="1.0" stroke-linecap="round"/><path d="M719.02 361.33L707.44 358.80" stroke="#444444" stroke-width="1.0" stroke-linecap="round"/><path d="M629.46 361.08L621.53 364.18" stroke="#444444" stroke-width="1.0" stroke-linecap="round"/><path d="M726.25 53.85L714.70 51.33" stroke="#444444" stroke-width="1.0" stroke-linecap="round"/><path d="M636.88 53.65L628.98 56.74" stroke="#444444" stroke-width="1.0" stroke-linecap="round"/><circle cx="740.9" cy="273.3" r="11.8" fill="url(#rd1)"/><circle cx="585.0" cy="277.9" r="11.8" fill="url(#rd1)"/><circle cx="744.4" cy="119.6" r="11.8" fill="url(#rd1)"/><circle cx="588.7" cy="124.2" r="11.8" fill="url(#rd1)"/><path d="M730.59 363.86L719.02 361.33" stroke="#424242" stroke-width="1.0" stroke-linecap="round"/><path d="M621.53 364.18L613.61 367.28" stroke="#424242" stroke-width="1.0" stroke-linecap="round"/><path d="M737.80 56.36L726.25 53.85" stroke="#424242" stroke-width="1.0" stroke-linecap="round"/><path d="M628.98 56.74L621.07 59.84" stroke="#424242" stroke-width="1.0" stroke-linecap="round"/><path d="M742.17 366.39L730.59 363.86" stroke="#404040" stroke-width="1.0" stroke-linecap="round"/><path d="M613.61 367.28L605.68 370.38" stroke="#404040" stroke-width="1.0" stroke-linecap="round"/><path d="M749.35 58.88L737.80 56.36" stroke="#404040" stroke-width="1.0" stroke-linecap="round"/><path d="M621.07 59.84L613.17 62.93" stroke="#404040" stroke-width="1.0" stroke-linecap="round"/><path d="M753.75 368.92L742.17 366.39" stroke="#3e3e3e" stroke-width="1.0" stroke-linecap="round"/><path d="M605.68 370.38L597.76 373.48" stroke="#3e3e3e" stroke-width="1.0" stroke-linecap="round"/><path d="M760.90 61.39L749.35 58.88" stroke="#3e3e3e" stroke-width="1.0" stroke-linecap="round"/><path d="M613.17 62.93L605.26 66.02" stroke="#3e3e3e" stroke-width="1.0" stroke-linecap="round"/><path d="M765.32 371.44L753.75 368.92" stroke="#3d3d3d" stroke-width="1.0" stroke-linecap="round"/><path d="M597.76 373.48L589.84 376.58" stroke="#3d3d3d" stroke-width="1.0" stroke-linecap="round"/><path d="M772.45 63.91L760.90 61.39" stroke="#3d3d3d" stroke-width="1.0" stroke-linecap="round"/><path d="M605.26 66.02L597.35 69.12" stroke="#3d3d3d" stroke-width="1.0" stroke-linecap="round"/><g><polygon points="757.3,217.3 677.5,298.1 770.0,318.3" fill="#7bb6db" fill-opacity="0.955"/><polygon points="757.3,217.3 833.4,293.5 770.0,318.3" fill="#74a9cd" fill-opacity="0.955"/><polygon points="753.7,371.2 677.5,298.1 770.0,318.3" fill="#74a8cb" fill-opacity="0.955"/><polygon points="753.7,371.2 833.4,293.5 770.0,318.3" fill="#6c9ebe" fill-opacity="0.955"/><path d="M755.7 285.8L746.8 278.3" stroke="#7db9e3" stroke-width="7.4" stroke-opacity="0.25"/><path d="M755.7 285.8L746.8 278.3" stroke="#91ccef" stroke-width="2.6" stroke-opacity="0.17"/><path d="M746.8 278.3L740.9 273.3" stroke="#9b94b9" stroke-width="7.4" stroke-opacity="0.20"/><path d="M755.7 285.8L756.6 245.8" stroke="#7db9e3" stroke-width="7.4" stroke-opacity="0.72"/><path d="M755.7 285.8L756.6 245.8" stroke="#91ccef" stroke-width="2.6" stroke-opacity="0.50"/><path d="M756.6 245.8L757.3 217.3" stroke="#9b94b9" stroke-width="7.4" stroke-opacity="0.58"/><path d="M755.7 285.8L754.6 334.2" stroke="#7db9e3" stroke-width="7.4" stroke-opacity="0.72"/><path d="M755.7 285.8L754.6 334.2" stroke="#91ccef" stroke-width="2.6" stroke-opacity="0.50"/><path d="M754.6 334.2L753.7 371.2" stroke="#9b94b9" stroke-width="7.4" stroke-opacity="0.58"/><path d="M755.7 285.8L711.0 292.8" stroke="#7db9e3" stroke-width="7.4" stroke-opacity="0.72"/><path d="M755.7 285.8L711.0 292.8" stroke="#91ccef" stroke-width="2.6" stroke-opacity="0.50"/><path d="M711.0 292.8L677.5 298.1" stroke="#9b94b9" stroke-width="7.4" stroke-opacity="0.58"/><path d="M755.7 285.8L800.2 290.2" stroke="#7db9e3" stroke-width="7.4" stroke-opacity="0.72"/><path d="M755.7 285.8L800.2 290.2" stroke="#91ccef" stroke-width="2.6" stroke-opacity="0.50"/><path d="M800.2 290.2L833.4 293.5" stroke="#9b94b9" stroke-width="7.4" stroke-opacity="0.58"/><circle cx="755.7" cy="285.8" r="23.2" fill="url(#bs1)"/><path d="M758.8 293.0L764.6 306.0" stroke="#74acd4" stroke-width="7.2" stroke-linecap="round" stroke-opacity="0.8"/><path d="M764.6 306.0L770.0 318.3" stroke="#a799be" stroke-width="7.2" stroke-opacity="0.85"/><path d="M757.3 217.3L677.5 298.1M757.3 217.3L833.4 293.5M753.7 371.2L677.5 298.1M753.7 371.2L833.4 293.5M757.3 217.3L770.0 318.3M753.7 371.2L770.0 318.3M677.5 298.1L770.0 318.3M833.4 293.5L770.0 318.3" stroke="#d6d4cc" stroke-width="1" stroke-opacity="0.9" fill="none"/></g><g><polygon points="601.5,221.9 521.6,302.7 614.1,322.9" fill="#7bb6db" fill-opacity="0.955"/><polygon points="601.5,221.9 677.5,298.1 614.1,322.9" fill="#74a9cd" fill-opacity="0.955"/><polygon points="597.7,375.8 521.6,302.7 614.1,322.9" fill="#74a8cb" fill-opacity="0.955"/><polygon points="597.7,375.8 677.5,298.1 614.1,322.9" fill="#6c9ebe" fill-opacity="0.955"/><path d="M599.8 290.4L590.9 282.9" stroke="#7db9e3" stroke-width="7.4" stroke-opacity="0.25"/><path d="M599.8 290.4L590.9 282.9" stroke="#91ccef" stroke-width="2.6" stroke-opacity="0.17"/><path d="M590.9 282.9L585.0 277.9" stroke="#9b94b9" stroke-width="7.4" stroke-opacity="0.20"/><path d="M599.8 290.4L600.8 250.4" stroke="#7db9e3" stroke-width="7.4" stroke-opacity="0.72"/><path d="M599.8 290.4L600.8 250.4" stroke="#91ccef" stroke-width="2.6" stroke-opacity="0.50"/><path d="M600.8 250.4L601.5 221.9" stroke="#9b94b9" stroke-width="7.4" stroke-opacity="0.58"/><path d="M599.8 290.4L598.6 338.8" stroke="#7db9e3" stroke-width="7.4" stroke-opacity="0.72"/><path d="M599.8 290.4L598.6 338.8" stroke="#91ccef" stroke-width="2.6" stroke-opacity="0.50"/><path d="M598.6 338.8L597.7 375.8" stroke="#9b94b9" stroke-width="7.4" stroke-opacity="0.58"/><path d="M599.8 290.4L555.1 297.4" stroke="#7db9e3" stroke-width="7.4" stroke-opacity="0.72"/><path d="M599.8 290.4L555.1 297.4" stroke="#91ccef" stroke-width="2.6" stroke-opacity="0.50"/><path d="M555.1 297.4L521.6 302.7" stroke="#9b94b9" stroke-width="7.4" stroke-opacity="0.58"/><path d="M599.8 290.4L644.3 294.8" stroke="#7db9e3" stroke-width="7.4" stroke-opacity="0.72"/><path d="M599.8 290.4L644.3 294.8" stroke="#91ccef" stroke-width="2.6" stroke-opacity="0.50"/><path d="M644.3 294.8L677.5 298.1" stroke="#9b94b9" stroke-width="7.4" stroke-opacity="0.58"/><circle cx="599.8" cy="290.4" r="23.2" fill="url(#bs1)"/><path d="M602.9 297.5L608.7 310.5" stroke="#74acd4" stroke-width="7.2" stroke-linecap="round" stroke-opacity="0.8"/><path d="M608.7 310.5L614.1 322.9" stroke="#a799be" stroke-width="7.2" stroke-opacity="0.85"/><path d="M601.5 221.9L521.6 302.7M601.5 221.9L677.5 298.1M597.7 375.8L521.6 302.7M597.7 375.8L677.5 298.1M601.5 221.9L614.1 322.9M597.7 375.8L614.1 322.9M521.6 302.7L614.1 322.9M677.5 298.1L614.1 322.9" stroke="#d6d4cc" stroke-width="1" stroke-opacity="0.9" fill="none"/></g><g><polygon points="760.8,63.7 681.1,144.4 773.6,164.5" fill="#7bb6db" fill-opacity="0.955"/><polygon points="760.8,63.7 836.9,139.7 773.6,164.5" fill="#74a9cd" fill-opacity="0.955"/><polygon points="757.3,217.3 681.1,144.4 773.6,164.5" fill="#699abc" fill-opacity="0.955"/><polygon points="757.3,217.3 836.9,139.7 773.6,164.5" fill="#618faf" fill-opacity="0.955"/><path d="M759.3 132.1L750.4 124.6" stroke="#7db9e3" stroke-width="7.4" stroke-opacity="0.25"/><path d="M759.3 132.1L750.4 124.6" stroke="#91ccef" stroke-width="2.6" stroke-opacity="0.17"/><path d="M750.4 124.6L744.4 119.6" stroke="#9b94b9" stroke-width="7.4" stroke-opacity="0.20"/><path d="M759.3 132.1L760.2 92.2" stroke="#7db9e3" stroke-width="7.4" stroke-opacity="0.72"/><path d="M759.3 132.1L760.2 92.2" stroke="#91ccef" stroke-width="2.6" stroke-opacity="0.50"/><path d="M760.2 92.2L760.8 63.7" stroke="#9b94b9" stroke-width="7.4" stroke-opacity="0.58"/><path d="M759.3 132.1L758.1 180.4" stroke="#7db9e3" stroke-width="7.4" stroke-opacity="0.72"/><path d="M759.3 132.1L758.1 180.4" stroke="#91ccef" stroke-width="2.6" stroke-opacity="0.50"/><path d="M758.1 180.4L757.3 217.3" stroke="#9b94b9" stroke-width="7.4" stroke-opacity="0.58"/><path d="M759.3 132.1L714.6 139.1" stroke="#7db9e3" stroke-width="7.4" stroke-opacity="0.72"/><path d="M759.3 132.1L714.6 139.1" stroke="#91ccef" stroke-width="2.6" stroke-opacity="0.50"/><path d="M714.6 139.1L681.1 144.4" stroke="#9b94b9" stroke-width="7.4" stroke-opacity="0.58"/><path d="M759.3 132.1L803.8 136.5" stroke="#7db9e3" stroke-width="7.4" stroke-opacity="0.72"/><path d="M759.3 132.1L803.8 136.5" stroke="#91ccef" stroke-width="2.6" stroke-opacity="0.50"/><path d="M803.8 136.5L836.9 139.7" stroke="#9b94b9" stroke-width="7.4" stroke-opacity="0.58"/><circle cx="759.3" cy="132.1" r="23.2" fill="url(#bs1)"/><path d="M762.4 139.2L768.2 152.2" stroke="#74acd4" stroke-width="7.2" stroke-linecap="round" stroke-opacity="0.8"/><path d="M768.2 152.2L773.6 164.5" stroke="#a799be" stroke-width="7.2" stroke-opacity="0.85"/><path d="M760.8 63.7L681.1 144.4M760.8 63.7L836.9 139.7M757.3 217.3L681.1 144.4M757.3 217.3L836.9 139.7M760.8 63.7L773.6 164.5M757.3 217.3L773.6 164.5M681.1 144.4L773.6 164.5M836.9 139.7L773.6 164.5" stroke="#d6d4cc" stroke-width="1" stroke-opacity="0.9" fill="none"/></g><g><polygon points="605.2,68.3 525.5,149.0 617.9,169.1" fill="#7bb6db" fill-opacity="0.955"/><polygon points="605.2,68.3 681.1,144.4 617.9,169.1" fill="#74a9cd" fill-opacity="0.955"/><polygon points="601.5,221.9 525.5,149.0 617.9,169.1" fill="#699abc" fill-opacity="0.955"/><polygon points="601.5,221.9 681.1,144.4 617.9,169.1" fill="#618faf" fill-opacity="0.955"/><path d="M603.5 136.7L594.7 129.2" stroke="#7db9e3" stroke-width="7.4" stroke-opacity="0.25"/><path d="M603.5 136.7L594.7 129.2" stroke="#91ccef" stroke-width="2.6" stroke-opacity="0.17"/><path d="M594.7 129.2L588.7 124.2" stroke="#9b94b9" stroke-width="7.4" stroke-opacity="0.20"/><path d="M603.5 136.7L604.5 96.8" stroke="#7db9e3" stroke-width="7.4" stroke-opacity="0.72"/><path d="M603.5 136.7L604.5 96.8" stroke="#91ccef" stroke-width="2.6" stroke-opacity="0.50"/><path d="M604.5 96.8L605.2 68.3" stroke="#9b94b9" stroke-width="7.4" stroke-opacity="0.58"/><path d="M603.5 136.7L602.4 185.0" stroke="#7db9e3" stroke-width="7.4" stroke-opacity="0.72"/><path d="M603.5 136.7L602.4 185.0" stroke="#91ccef" stroke-width="2.6" stroke-opacity="0.50"/><path d="M602.4 185.0L601.5 221.9" stroke="#9b94b9" stroke-width="7.4" stroke-opacity="0.58"/><path d="M603.5 136.7L558.9 143.7" stroke="#7db9e3" stroke-width="7.4" stroke-opacity="0.72"/><path d="M603.5 136.7L558.9 143.7" stroke="#91ccef" stroke-width="2.6" stroke-opacity="0.50"/><path d="M558.9 143.7L525.5 149.0" stroke="#9b94b9" stroke-width="7.4" stroke-opacity="0.58"/><path d="M603.5 136.7L648.0 141.1" stroke="#7db9e3" stroke-width="7.4" stroke-opacity="0.72"/><path d="M603.5 136.7L648.0 141.1" stroke="#91ccef" stroke-width="2.6" stroke-opacity="0.50"/><path d="M648.0 141.1L681.1 144.4" stroke="#9b94b9" stroke-width="7.4" stroke-opacity="0.58"/><circle cx="603.5" cy="136.7" r="23.2" fill="url(#bs1)"/><path d="M606.7 143.8L612.4 156.8" stroke="#74acd4" stroke-width="7.2" stroke-linecap="round" stroke-opacity="0.8"/><path d="M612.4 156.8L617.9 169.1" stroke="#a799be" stroke-width="7.2" stroke-opacity="0.85"/><path d="M605.2 68.3L525.5 149.0M605.2 68.3L681.1 144.4M601.5 221.9L525.5 149.0M601.5 221.9L681.1 144.4M605.2 68.3L617.9 169.1M601.5 221.9L617.9 169.1M525.5 149.0L617.9 169.1M681.1 144.4L617.9 169.1" stroke="#d6d4cc" stroke-width="1" stroke-opacity="0.9" fill="none"/></g><path d="M776.90 373.97L765.32 371.44" stroke="#3b3b3b" stroke-width="1.0" stroke-linecap="round"/><path d="M589.84 376.58L581.91 379.68" stroke="#3b3b3b" stroke-width="1.0" stroke-linecap="round"/><path d="M784.00 66.42L772.45 63.91" stroke="#3b3b3b" stroke-width="1.0" stroke-linecap="round"/><path d="M597.35 69.12L589.45 72.21" stroke="#3b3b3b" stroke-width="1.0" stroke-linecap="round"/><path d="M788.48 376.50L776.90 373.97" stroke="#393939" stroke-width="1.0" stroke-linecap="round"/><path d="M581.91 379.68L573.99 382.78" stroke="#393939" stroke-width="1.0" stroke-linecap="round"/><path d="M795.56 68.94L784.00 66.42" stroke="#393939" stroke-width="1.0" stroke-linecap="round"/><path d="M589.45 72.21L581.54 75.30" stroke="#393939" stroke-width="1.0" stroke-linecap="round"/><path d="M800.06 379.03L788.48 376.50" stroke="#373737" stroke-width="1.0" stroke-linecap="round"/><path d="M573.99 382.78L566.07 385.88" stroke="#373737" stroke-width="1.0" stroke-linecap="round"/><path d="M807.11 71.46L795.56 68.94" stroke="#373737" stroke-width="1.0" stroke-linecap="round"/><path d="M581.54 75.30L573.64 78.40" stroke="#373737" stroke-width="1.0" stroke-linecap="round"/><path d="M811.64 381.56L800.06 379.03" stroke="#363636" stroke-width="1.0" stroke-linecap="round"/><path d="M566.07 385.88L558.14 388.98" stroke="#363636" stroke-width="1.0" stroke-linecap="round"/><path d="M818.67 73.97L807.11 71.46" stroke="#363636" stroke-width="1.0" stroke-linecap="round"/><path d="M573.64 78.40L565.73 81.49" stroke="#363636" stroke-width="1.0" stroke-linecap="round"/><circle cx="753.7" cy="371.2" r="11.8" fill="url(#rd1)"/><path clip-path="url(#nc11)" d="M739.7 358.7L753.7 365.7L767.7 357.7V349.2H739.7Z" fill="#6fa0c2" fill-opacity="0.78"/><circle cx="833.4" cy="293.5" r="11.8" fill="url(#rd1)"/><circle cx="597.7" cy="375.8" r="11.8" fill="url(#rd1)"/><path clip-path="url(#nc9)" d="M583.7 363.3L597.7 370.3L611.7 362.3V353.8H583.7Z" fill="#6fa0c2" fill-opacity="0.78"/><circle cx="677.5" cy="298.1" r="11.8" fill="url(#rd1)"/><circle cx="757.3" cy="217.3" r="11.8" fill="url(#rd1)"/><path clip-path="url(#nc10)" d="M743.3 204.8L757.3 211.8L771.3 203.8V195.3H743.3Z" fill="#6fa0c2" fill-opacity="0.78"/><circle cx="836.9" cy="139.7" r="11.8" fill="url(#rd1)"/><circle cx="521.6" cy="302.7" r="11.8" fill="url(#rd1)"/><circle cx="601.5" cy="221.9" r="11.8" fill="url(#rd1)"/><path clip-path="url(#nc8)" d="M587.5 209.4L601.5 216.4L615.5 208.4V199.9H587.5Z" fill="#6fa0c2" fill-opacity="0.78"/><circle cx="681.1" cy="144.4" r="11.8" fill="url(#rd1)"/><circle cx="760.8" cy="63.7" r="11.8" fill="url(#rd1)"/><circle cx="525.5" cy="149.0" r="11.8" fill="url(#rd1)"/><circle cx="605.2" cy="68.3" r="11.8" fill="url(#rd1)"/><path d="M823.22 384.09L811.64 381.56" stroke="#343434" stroke-width="1.0" stroke-linecap="round"/><path d="M558.14 388.98L550.22 392.08" stroke="#343434" stroke-width="1.0" stroke-linecap="round"/><path d="M830.22 76.49L818.67 73.97" stroke="#343434" stroke-width="1.0" stroke-linecap="round"/><path d="M565.73 81.49L557.83 84.58" stroke="#343434" stroke-width="1.0" stroke-linecap="round"/><path d="M834.80 386.62L823.22 384.09" stroke="#323232" stroke-width="1.0" stroke-linecap="round"/><path d="M550.22 392.08L542.30 395.18" stroke="#323232" stroke-width="1.0" stroke-linecap="round"/><path d="M841.78 79.00L830.22 76.49" stroke="#323232" stroke-width="1.0" stroke-linecap="round"/><path d="M557.83 84.58L549.92 87.68" stroke="#323232" stroke-width="1.0" stroke-linecap="round"/><path d="M846.38 389.15L834.80 386.62" stroke="#303030" stroke-width="1.0" stroke-linecap="round"/><path d="M542.30 395.18L534.37 398.28" stroke="#303030" stroke-width="1.0" stroke-linecap="round"/><path d="M853.33 81.52L841.78 79.00" stroke="#303030" stroke-width="1.0" stroke-linecap="round"/><path d="M549.92 87.68L542.01 90.77" stroke="#303030" stroke-width="1.0" stroke-linecap="round"/><path d="M846.38 389.15L846.82 369.89" stroke="#303030" stroke-width="1.0" stroke-linecap="round"/><path d="M846.82 369.89L847.25 350.63" stroke="#303030" stroke-width="1.0" stroke-linecap="round"/><path d="M847.25 350.63L847.69 331.37" stroke="#303030" stroke-width="1.0" stroke-linecap="round"/><path d="M847.69 331.37L848.12 312.12" stroke="#303030" stroke-width="1.0" stroke-linecap="round"/><path d="M848.12 312.12L848.56 292.87" stroke="#303030" stroke-width="1.0" stroke-linecap="round"/><path d="M677.34 394.10L690.34 393.72" stroke="#000" stroke-width="4.4" stroke-linecap="round"/><path d="M848.56 292.87L848.99 273.63" stroke="#303030" stroke-width="1.0" stroke-linecap="round"/><path d="M690.34 393.72L690.71 378.31" stroke="#000" stroke-width="4.4" stroke-linecap="round"/><path d="M664.34 394.48L677.34 394.10" stroke="#000" stroke-width="4.4" stroke-linecap="round"/><path d="M651.34 394.86L664.34 394.48" stroke="#000" stroke-width="4.4" stroke-linecap="round"/><path d="M690.71 378.31L691.07 362.90" stroke="#000" stroke-width="4.4" stroke-linecap="round"/><path d="M848.99 273.63L849.43 254.39" stroke="#303030" stroke-width="1.0" stroke-linecap="round"/><path d="M638.34 395.24L651.34 394.86" stroke="#000" stroke-width="4.4" stroke-linecap="round"/><path d="M625.35 395.62L638.34 395.24" stroke="#000" stroke-width="4.4" stroke-linecap="round"/><path d="M691.07 362.90L691.44 347.49" stroke="#000" stroke-width="4.4" stroke-linecap="round"/><path d="M849.43 254.39L849.86 235.16" stroke="#303030" stroke-width="1.0" stroke-linecap="round"/><path d="M612.35 396.00L625.35 395.62" stroke="#000" stroke-width="4.4" stroke-linecap="round"/><path d="M691.44 347.49L691.80 332.09" stroke="#000" stroke-width="4.4" stroke-linecap="round"/><path d="M599.35 396.38L612.35 396.00" stroke="#000" stroke-width="4.4" stroke-linecap="round"/><path d="M586.35 396.76L599.35 396.38" stroke="#000" stroke-width="4.4" stroke-linecap="round"/><path d="M849.86 235.16L850.30 215.94" stroke="#303030" stroke-width="1.0" stroke-linecap="round"/><path d="M691.80 332.09L692.17 316.70" stroke="#000" stroke-width="4.4" stroke-linecap="round"/><path d="M573.36 397.14L586.35 396.76" stroke="#000" stroke-width="4.4" stroke-linecap="round"/><path d="M560.36 397.52L573.36 397.14" stroke="#000" stroke-width="4.4" stroke-linecap="round"/><path d="M850.30 215.94L850.73 196.72" stroke="#303030" stroke-width="1.0" stroke-linecap="round"/><path d="M692.17 316.70L692.53 301.30" stroke="#000" stroke-width="4.4" stroke-linecap="round"/><path d="M547.37 397.90L560.36 397.52" stroke="#000" stroke-width="4.4" stroke-linecap="round"/><path d="M534.37 398.28L547.37 397.90" stroke="#000" stroke-width="4.4" stroke-linecap="round"/><path d="M692.53 301.30L692.90 285.91" stroke="#000" stroke-width="4.4" stroke-linecap="round"/><path d="M850.73 196.72L851.16 177.51" stroke="#303030" stroke-width="1.0" stroke-linecap="round"/><path d="M534.37 398.28L534.76 382.87" stroke="#000" stroke-width="4.4" stroke-linecap="round"/><path d="M534.37 398.28L534.85 379.02" stroke="#303030" stroke-width="1.0" stroke-linecap="round"/><path d="M692.90 285.91L693.26 270.52" stroke="#000" stroke-width="4.4" stroke-linecap="round"/><path d="M851.16 177.51L851.60 158.30" stroke="#303030" stroke-width="1.0" stroke-linecap="round"/><path d="M536.80 402.03L534.37 398.28" stroke="#000" stroke-width="4.4" stroke-linecap="round"/><path d="M534.76 382.87L535.14 367.47" stroke="#000" stroke-width="4.4" stroke-linecap="round"/><path d="M534.85 379.02L535.33 359.76" stroke="#303030" stroke-width="1.0" stroke-linecap="round"/><path d="M693.26 270.52L693.63 255.14" stroke="#000" stroke-width="4.4" stroke-linecap="round"/><path d="M535.14 367.47L535.52 352.06" stroke="#000" stroke-width="4.4" stroke-linecap="round"/><path d="M851.60 158.30L852.03 139.10" stroke="#303030" stroke-width="1.0" stroke-linecap="round"/><path d="M693.63 255.14L693.99 239.76" stroke="#000" stroke-width="4.4" stroke-linecap="round"/><path d="M535.33 359.76L535.81 340.52" stroke="#303030" stroke-width="1.0" stroke-linecap="round"/><path d="M535.52 352.06L535.90 336.67" stroke="#000" stroke-width="4.4" stroke-linecap="round"/><path d="M681.01 240.14L693.99 239.76" stroke="#000" stroke-width="4.4" stroke-linecap="round"/><path d="M852.03 139.10L852.47 119.90" stroke="#303030" stroke-width="1.0" stroke-linecap="round"/><path d="M539.23 405.78L536.80 402.03" stroke="#000" stroke-width="4.4" stroke-linecap="round"/><path d="M668.02 240.52L681.01 240.14" stroke="#000" stroke-width="4.4" stroke-linecap="round"/><path d="M535.81 340.52L536.29 321.27" stroke="#303030" stroke-width="1.0" stroke-linecap="round"/><path d="M535.90 336.67L536.29 321.27" stroke="#000" stroke-width="4.4" stroke-linecap="round"/><path d="M655.04 240.91L668.02 240.52" stroke="#000" stroke-width="4.4" stroke-linecap="round"/><path d="M693.99 239.76L696.42 243.51" stroke="#000" stroke-width="4.4" stroke-linecap="round"/><path d="M852.47 119.90L852.90 100.71" stroke="#303030" stroke-width="1.0" stroke-linecap="round"/><path d="M642.05 241.29L655.04 240.91" stroke="#000" stroke-width="4.4" stroke-linecap="round"/><path d="M536.29 321.27L536.67 305.88" stroke="#000" stroke-width="4.4" stroke-linecap="round"/><path d="M536.29 321.27L536.77 302.03" stroke="#303030" stroke-width="1.0" stroke-linecap="round"/><path d="M629.07 241.67L642.05 241.29" stroke="#000" stroke-width="4.4" stroke-linecap="round"/><path d="M852.90 100.71L853.33 81.52" stroke="#303030" stroke-width="1.0" stroke-linecap="round"/><path d="M616.09 242.06L629.07 241.67" stroke="#000" stroke-width="4.4" stroke-linecap="round"/><path d="M536.67 305.88L537.05 290.49" stroke="#000" stroke-width="4.4" stroke-linecap="round"/><path d="M536.77 302.03L537.24 282.80" stroke="#303030" stroke-width="1.0" stroke-linecap="round"/><path d="M603.10 242.44L616.09 242.06" stroke="#000" stroke-width="4.4" stroke-linecap="round"/><path d="M537.05 290.49L537.43 275.11" stroke="#000" stroke-width="4.4" stroke-linecap="round"/><path d="M590.12 242.82L603.10 242.44" stroke="#000" stroke-width="4.4" stroke-linecap="round"/><path d="M696.42 243.51L698.85 247.25" stroke="#000" stroke-width="4.4" stroke-linecap="round"/><path d="M577.14 243.20L590.12 242.82" stroke="#000" stroke-width="4.4" stroke-linecap="round"/><path d="M537.24 282.80L537.72 263.57" stroke="#303030" stroke-width="1.0" stroke-linecap="round"/><path d="M537.43 275.11L537.82 259.73" stroke="#000" stroke-width="4.4" stroke-linecap="round"/><path d="M564.16 243.59L577.14 243.20" stroke="#000" stroke-width="4.4" stroke-linecap="round"/><path d="M551.18 243.97L564.16 243.59" stroke="#000" stroke-width="4.4" stroke-linecap="round"/><path d="M537.72 263.57L538.20 244.35" stroke="#303030" stroke-width="1.0" stroke-linecap="round"/><path d="M537.82 259.73L538.20 244.35" stroke="#000" stroke-width="4.4" stroke-linecap="round"/><path d="M538.20 244.35L551.18 243.97" stroke="#000" stroke-width="4.4" stroke-linecap="round"/><path d="M538.20 244.35L538.68 225.13" stroke="#303030" stroke-width="1.0" stroke-linecap="round"/><path d="M540.63 248.10L538.20 244.35" stroke="#000" stroke-width="4.4" stroke-linecap="round"/><path d="M538.68 225.13L539.15 205.92" stroke="#303030" stroke-width="1.0" stroke-linecap="round"/><path d="M539.15 205.92L539.63 186.72" stroke="#303030" stroke-width="1.0" stroke-linecap="round"/><path d="M543.05 251.84L540.63 248.10" stroke="#000" stroke-width="4.4" stroke-linecap="round"/><path d="M539.63 186.72L540.11 167.52" stroke="#303030" stroke-width="1.0" stroke-linecap="round"/><path d="M540.11 167.52L540.58 148.32" stroke="#303030" stroke-width="1.0" stroke-linecap="round"/><path d="M540.58 148.32L541.06 129.13" stroke="#303030" stroke-width="1.0" stroke-linecap="round"/><path d="M541.06 129.13L541.54 109.95" stroke="#303030" stroke-width="1.0" stroke-linecap="round"/><path d="M541.54 109.95L542.01 90.77" stroke="#303030" stroke-width="1.0" stroke-linecap="round"/><path d="M838.46 392.26L846.38 389.15" stroke="#2f2f2f" stroke-width="1.0" stroke-linecap="round"/><path d="M534.37 398.28L545.94 400.81" stroke="#2f2f2f" stroke-width="1.0" stroke-linecap="round"/><path d="M845.42 84.61L853.33 81.52" stroke="#2f2f2f" stroke-width="1.0" stroke-linecap="round"/><path d="M542.01 90.77L553.56 93.28" stroke="#2f2f2f" stroke-width="1.0" stroke-linecap="round"/><path d="M690.34 393.72L692.77 397.47" stroke="#000" stroke-width="0.01" stroke-linecap="round"/><circle cx="846.6" cy="378.3" r="28.3" fill="url(#gy1)"/><circle cx="690.6" cy="382.8" r="28.3" fill="url(#gy1)"/><circle cx="850.1" cy="224.3" r="28.3" fill="url(#gy1)"/><circle cx="534.6" cy="387.4" r="28.3" fill="url(#gy1)"/><circle cx="694.3" cy="228.9" r="28.3" fill="url(#gy1)"/><circle cx="538.5" cy="233.5" r="28.3" fill="url(#gy1)"/><path d="M830.53 395.36L838.46 392.26" stroke="#2d2d2d" stroke-width="1.0" stroke-linecap="round"/><path d="M545.94 400.81L557.51 403.34" stroke="#2d2d2d" stroke-width="1.0" stroke-linecap="round"/><path d="M837.51 87.71L845.42 84.61" stroke="#2d2d2d" stroke-width="1.0" stroke-linecap="round"/><path d="M553.56 93.28L565.10 95.80" stroke="#2d2d2d" stroke-width="1.0" stroke-linecap="round"/><path d="M692.77 397.47L695.21 401.22" stroke="#000" stroke-width="0.01" stroke-linecap="round"/><path d="M822.60 398.46L830.53 395.36" stroke="#2b2b2b" stroke-width="1.0" stroke-linecap="round"/><path d="M557.51 403.34L569.08 405.87" stroke="#2b2b2b" stroke-width="1.0" stroke-linecap="round"/><path d="M829.60 90.80L837.51 87.71" stroke="#2b2b2b" stroke-width="1.0" stroke-linecap="round"/><path d="M565.10 95.80L576.64 98.32" stroke="#2b2b2b" stroke-width="1.0" stroke-linecap="round"/><path d="M695.21 401.22L697.64 404.98" stroke="#000" stroke-width="0.01" stroke-linecap="round"/><path d="M541.66 409.54L539.23 405.78" stroke="#000" stroke-width="4.4" stroke-linecap="round"/><path d="M698.85 247.25L701.28 251.00" stroke="#000" stroke-width="4.4" stroke-linecap="round"/><path d="M545.48 255.59L543.05 251.84" stroke="#000" stroke-width="4.4" stroke-linecap="round"/><path d="M814.67 401.56L822.60 398.46" stroke="#292929" stroke-width="1.0" stroke-linecap="round"/><path d="M569.08 405.87L580.65 408.40" stroke="#292929" stroke-width="1.0" stroke-linecap="round"/><path d="M821.69 93.90L829.60 90.80" stroke="#292929" stroke-width="1.0" stroke-linecap="round"/><path d="M576.64 98.32L588.19 100.83" stroke="#292929" stroke-width="1.0" stroke-linecap="round"/><path d="M806.75 404.66L814.67 401.56" stroke="#282828" stroke-width="1.0" stroke-linecap="round"/><path d="M580.65 408.40L592.22 410.93" stroke="#282828" stroke-width="1.0" stroke-linecap="round"/><path d="M813.78 96.99L821.69 93.90" stroke="#282828" stroke-width="1.0" stroke-linecap="round"/><path d="M588.19 100.83L599.73 103.35" stroke="#282828" stroke-width="1.0" stroke-linecap="round"/><path d="M697.64 404.98L700.07 408.73" stroke="#000" stroke-width="0.01" stroke-linecap="round"/><path d="M701.28 251.00L703.72 254.75" stroke="#000" stroke-width="4.4" stroke-linecap="round"/><path d="M544.09 413.29L541.66 409.54" stroke="#000" stroke-width="4.4" stroke-linecap="round"/><path d="M547.91 259.34L545.48 255.59" stroke="#000" stroke-width="4.4" stroke-linecap="round"/><circle cx="770.0" cy="318.3" r="11.8" fill="url(#rd1)"/><circle cx="614.1" cy="322.9" r="11.8" fill="url(#rd1)"/><circle cx="773.6" cy="164.5" r="11.8" fill="url(#rd1)"/><circle cx="617.9" cy="169.1" r="11.8" fill="url(#rd1)"/><path d="M798.82 407.76L806.75 404.66" stroke="#262626" stroke-width="1.0" stroke-linecap="round"/><path d="M592.22 410.93L603.79 413.46" stroke="#262626" stroke-width="1.0" stroke-linecap="round"/><path d="M805.87 100.09L813.78 96.99" stroke="#262626" stroke-width="1.0" stroke-linecap="round"/><path d="M599.73 103.35L611.28 105.86" stroke="#262626" stroke-width="1.0" stroke-linecap="round"/><path d="M700.07 408.73L702.51 412.49" stroke="#000" stroke-width="0.01" stroke-linecap="round"/><path d="M546.52 417.04L544.09 413.29" stroke="#000" stroke-width="4.4" stroke-linecap="round"/><path d="M703.72 254.75L706.15 258.49" stroke="#000" stroke-width="4.4" stroke-linecap="round"/><path d="M550.33 263.08L547.91 259.34" stroke="#000" stroke-width="4.4" stroke-linecap="round"/><path d="M790.89 410.86L798.82 407.76" stroke="#242424" stroke-width="1.0" stroke-linecap="round"/><path d="M603.79 413.46L615.37 415.99" stroke="#242424" stroke-width="1.0" stroke-linecap="round"/><path d="M797.96 103.18L805.87 100.09" stroke="#242424" stroke-width="1.0" stroke-linecap="round"/><path d="M611.28 105.86L622.83 108.38" stroke="#242424" stroke-width="1.0" stroke-linecap="round"/><path d="M548.95 420.80L546.52 417.04" stroke="#000" stroke-width="4.4" stroke-linecap="round"/><path d="M552.76 266.83L550.33 263.08" stroke="#000" stroke-width="4.4" stroke-linecap="round"/><path d="M702.51 412.49L704.94 416.24" stroke="#000" stroke-width="0.01" stroke-linecap="round"/><path d="M706.15 258.49L708.58 262.24" stroke="#000" stroke-width="4.4" stroke-linecap="round"/><path d="M782.96 413.96L790.89 410.86" stroke="#222222" stroke-width="1.0" stroke-linecap="round"/><path d="M615.37 415.99L626.94 418.52" stroke="#222222" stroke-width="1.0" stroke-linecap="round"/><path d="M790.05 106.28L797.96 103.18" stroke="#222222" stroke-width="1.0" stroke-linecap="round"/><path d="M622.83 108.38L634.37 110.90" stroke="#222222" stroke-width="1.0" stroke-linecap="round"/><path d="M775.04 417.06L782.96 413.96" stroke="#212121" stroke-width="1.0" stroke-linecap="round"/><path d="M626.94 418.52L638.51 421.05" stroke="#212121" stroke-width="1.0" stroke-linecap="round"/><path d="M782.14 109.37L790.05 106.28" stroke="#212121" stroke-width="1.0" stroke-linecap="round"/><path d="M634.37 110.90L645.92 113.41" stroke="#212121" stroke-width="1.0" stroke-linecap="round"/><path d="M551.38 424.55L548.95 420.80" stroke="#000" stroke-width="4.4" stroke-linecap="round"/><path d="M555.19 270.58L552.76 266.83" stroke="#000" stroke-width="4.4" stroke-linecap="round"/><path d="M704.94 416.24L707.38 420.00" stroke="#000" stroke-width="0.01" stroke-linecap="round"/><path d="M708.58 262.24L711.01 265.99" stroke="#000" stroke-width="4.4" stroke-linecap="round"/><g><polygon points="786.5,262.2 706.7,343.1 799.3,363.3" fill="#62a8d4" fill-opacity="0.955"/><polygon points="786.5,262.2 862.6,338.5 799.3,363.3" fill="#5a99c3" fill-opacity="0.955"/><polygon points="782.9,416.3 706.7,343.1 799.3,363.3" fill="#5a98c1" fill-opacity="0.955"/><polygon points="782.9,416.3 862.6,338.5 799.3,363.3" fill="#508bb2" fill-opacity="0.955"/><path d="M784.9 330.8L776.0 323.3" stroke="#64acde" stroke-width="7.4" stroke-opacity="0.25"/><path d="M784.9 330.8L776.0 323.3" stroke="#7cc2ec" stroke-width="2.6" stroke-opacity="0.17"/><path d="M776.0 323.3L770.0 318.3" stroke="#8880ac" stroke-width="7.4" stroke-opacity="0.20"/><path d="M784.9 330.8L785.8 290.8" stroke="#64acde" stroke-width="7.4" stroke-opacity="0.72"/><path d="M784.9 330.8L785.8 290.8" stroke="#7cc2ec" stroke-width="2.6" stroke-opacity="0.50"/><path d="M785.8 290.8L786.5 262.2" stroke="#8880ac" stroke-width="7.4" stroke-opacity="0.58"/><path d="M784.9 330.8L783.8 379.2" stroke="#64acde" stroke-width="7.4" stroke-opacity="0.72"/><path d="M784.9 330.8L783.8 379.2" stroke="#7cc2ec" stroke-width="2.6" stroke-opacity="0.50"/><path d="M783.8 379.2L782.9 416.3" stroke="#8880ac" stroke-width="7.4" stroke-opacity="0.58"/><path d="M784.9 330.8L740.1 337.8" stroke="#64acde" stroke-width="7.4" stroke-opacity="0.72"/><path d="M784.9 330.8L740.1 337.8" stroke="#7cc2ec" stroke-width="2.6" stroke-opacity="0.50"/><path d="M740.1 337.8L706.7 343.1" stroke="#8880ac" stroke-width="7.4" stroke-opacity="0.58"/><path d="M784.9 330.8L829.4 335.2" stroke="#64acde" stroke-width="7.4" stroke-opacity="0.72"/><path d="M784.9 330.8L829.4 335.2" stroke="#7cc2ec" stroke-width="2.6" stroke-opacity="0.50"/><path d="M829.4 335.2L862.6 338.5" stroke="#8880ac" stroke-width="7.4" stroke-opacity="0.58"/><circle cx="784.9" cy="330.8" r="23.2" fill="url(#bs0)"/><path d="M788.0 338.0L793.8 351.0" stroke="#5a9ccc" stroke-width="7.2" stroke-linecap="round" stroke-opacity="0.8"/><path d="M793.8 351.0L799.3 363.3" stroke="#9686b2" stroke-width="7.2" stroke-opacity="0.85"/><path d="M786.5 262.2L706.7 343.1M786.5 262.2L862.6 338.5M782.9 416.3L706.7 343.1M782.9 416.3L862.6 338.5M786.5 262.2L799.3 363.3M782.9 416.3L799.3 363.3M706.7 343.1L799.3 363.3M862.6 338.5L799.3 363.3" stroke="#d6d4cc" stroke-width="1" stroke-opacity="0.9" fill="none"/></g><g><polygon points="630.6,266.8 550.8,347.7 643.3,367.9" fill="#62a8d4" fill-opacity="0.955"/><polygon points="630.6,266.8 706.7,343.1 643.3,367.9" fill="#5a99c3" fill-opacity="0.955"/><polygon points="626.9,420.8 550.8,347.7 643.3,367.9" fill="#5a98c1" fill-opacity="0.955"/><polygon points="626.9,420.8 706.7,343.1 643.3,367.9" fill="#508bb2" fill-opacity="0.955"/><path d="M628.9 335.4L620.1 327.9" stroke="#64acde" stroke-width="7.4" stroke-opacity="0.25"/><path d="M628.9 335.4L620.1 327.9" stroke="#7cc2ec" stroke-width="2.6" stroke-opacity="0.17"/><path d="M620.1 327.9L614.1 322.9" stroke="#8880ac" stroke-width="7.4" stroke-opacity="0.20"/><path d="M628.9 335.4L629.9 295.4" stroke="#64acde" stroke-width="7.4" stroke-opacity="0.72"/><path d="M628.9 335.4L629.9 295.4" stroke="#7cc2ec" stroke-width="2.6" stroke-opacity="0.50"/><path d="M629.9 295.4L630.6 266.8" stroke="#8880ac" stroke-width="7.4" stroke-opacity="0.58"/><path d="M628.9 335.4L627.8 383.8" stroke="#64acde" stroke-width="7.4" stroke-opacity="0.72"/><path d="M628.9 335.4L627.8 383.8" stroke="#7cc2ec" stroke-width="2.6" stroke-opacity="0.50"/><path d="M627.8 383.8L626.9 420.8" stroke="#8880ac" stroke-width="7.4" stroke-opacity="0.58"/><path d="M628.9 335.4L584.2 342.4" stroke="#64acde" stroke-width="7.4" stroke-opacity="0.72"/><path d="M628.9 335.4L584.2 342.4" stroke="#7cc2ec" stroke-width="2.6" stroke-opacity="0.50"/><path d="M584.2 342.4L550.8 347.7" stroke="#8880ac" stroke-width="7.4" stroke-opacity="0.58"/><path d="M628.9 335.4L673.5 339.8" stroke="#64acde" stroke-width="7.4" stroke-opacity="0.72"/><path d="M628.9 335.4L673.5 339.8" stroke="#7cc2ec" stroke-width="2.6" stroke-opacity="0.50"/><path d="M673.5 339.8L706.7 343.1" stroke="#8880ac" stroke-width="7.4" stroke-opacity="0.58"/><circle cx="628.9" cy="335.4" r="23.2" fill="url(#bs0)"/><path d="M632.1 342.5L637.8 355.5" stroke="#5a9ccc" stroke-width="7.2" stroke-linecap="round" stroke-opacity="0.8"/><path d="M637.8 355.5L643.3 367.9" stroke="#9686b2" stroke-width="7.2" stroke-opacity="0.85"/><path d="M630.6 266.8L550.8 347.7M630.6 266.8L706.7 343.1M626.9 420.8L550.8 347.7M626.9 420.8L706.7 343.1M630.6 266.8L643.3 367.9M626.9 420.8L643.3 367.9M550.8 347.7L643.3 367.9M706.7 343.1L643.3 367.9" stroke="#d6d4cc" stroke-width="1" stroke-opacity="0.9" fill="none"/></g><g><polygon points="790.0,108.6 710.3,189.3 802.8,209.4" fill="#62a8d4" fill-opacity="0.955"/><polygon points="790.0,108.6 866.1,184.7 802.8,209.4" fill="#5a99c3" fill-opacity="0.955"/><polygon points="786.5,262.2 710.3,189.3 802.8,209.4" fill="#4c87af" fill-opacity="0.955"/><polygon points="786.5,262.2 866.1,184.7 802.8,209.4" fill="#437aa0" fill-opacity="0.955"/><path d="M788.4 177.0L779.5 169.5" stroke="#64acde" stroke-width="7.4" stroke-opacity="0.25"/><path d="M788.4 177.0L779.5 169.5" stroke="#7cc2ec" stroke-width="2.6" stroke-opacity="0.17"/><path d="M779.5 169.5L773.6 164.5" stroke="#8880ac" stroke-width="7.4" stroke-opacity="0.20"/><path d="M788.4 177.0L789.3 137.1" stroke="#64acde" stroke-width="7.4" stroke-opacity="0.72"/><path d="M788.4 177.0L789.3 137.1" stroke="#7cc2ec" stroke-width="2.6" stroke-opacity="0.50"/><path d="M789.3 137.1L790.0 108.6" stroke="#8880ac" stroke-width="7.4" stroke-opacity="0.58"/><path d="M788.4 177.0L787.3 225.3" stroke="#64acde" stroke-width="7.4" stroke-opacity="0.72"/><path d="M788.4 177.0L787.3 225.3" stroke="#7cc2ec" stroke-width="2.6" stroke-opacity="0.50"/><path d="M787.3 225.3L786.5 262.2" stroke="#8880ac" stroke-width="7.4" stroke-opacity="0.58"/><path d="M788.4 177.0L743.7 184.0" stroke="#64acde" stroke-width="7.4" stroke-opacity="0.72"/><path d="M788.4 177.0L743.7 184.0" stroke="#7cc2ec" stroke-width="2.6" stroke-opacity="0.50"/><path d="M743.7 184.0L710.3 189.3" stroke="#8880ac" stroke-width="7.4" stroke-opacity="0.58"/><path d="M788.4 177.0L832.9 181.4" stroke="#64acde" stroke-width="7.4" stroke-opacity="0.72"/><path d="M788.4 177.0L832.9 181.4" stroke="#7cc2ec" stroke-width="2.6" stroke-opacity="0.50"/><path d="M832.9 181.4L866.1 184.7" stroke="#8880ac" stroke-width="7.4" stroke-opacity="0.58"/><circle cx="788.4" cy="177.0" r="23.2" fill="url(#bs0)"/><path d="M791.6 184.1L797.3 197.1" stroke="#5a9ccc" stroke-width="7.2" stroke-linecap="round" stroke-opacity="0.8"/><path d="M797.3 197.1L802.8 209.4" stroke="#9686b2" stroke-width="7.2" stroke-opacity="0.85"/><path d="M790.0 108.6L710.3 189.3M790.0 108.6L866.1 184.7M786.5 262.2L710.3 189.3M786.5 262.2L866.1 184.7M790.0 108.6L802.8 209.4M786.5 262.2L802.8 209.4M710.3 189.3L802.8 209.4M866.1 184.7L802.8 209.4" stroke="#d6d4cc" stroke-width="1" stroke-opacity="0.9" fill="none"/></g><g><polygon points="634.3,113.2 554.6,193.9 647.0,214.0" fill="#62a8d4" fill-opacity="0.955"/><polygon points="634.3,113.2 710.3,189.3 647.0,214.0" fill="#5a99c3" fill-opacity="0.955"/><polygon points="630.6,266.8 554.6,193.9 647.0,214.0" fill="#4c87af" fill-opacity="0.955"/><polygon points="630.6,266.8 710.3,189.3 647.0,214.0" fill="#437aa0" fill-opacity="0.955"/><path d="M632.7 181.6L623.8 174.1" stroke="#64acde" stroke-width="7.4" stroke-opacity="0.25"/><path d="M632.7 181.6L623.8 174.1" stroke="#7cc2ec" stroke-width="2.6" stroke-opacity="0.17"/><path d="M623.8 174.1L617.9 169.1" stroke="#8880ac" stroke-width="7.4" stroke-opacity="0.20"/><path d="M632.7 181.6L633.6 141.7" stroke="#64acde" stroke-width="7.4" stroke-opacity="0.72"/><path d="M632.7 181.6L633.6 141.7" stroke="#7cc2ec" stroke-width="2.6" stroke-opacity="0.50"/><path d="M633.6 141.7L634.3 113.2" stroke="#8880ac" stroke-width="7.4" stroke-opacity="0.58"/><path d="M632.7 181.6L631.5 229.9" stroke="#64acde" stroke-width="7.4" stroke-opacity="0.72"/><path d="M632.7 181.6L631.5 229.9" stroke="#7cc2ec" stroke-width="2.6" stroke-opacity="0.50"/><path d="M631.5 229.9L630.6 266.8" stroke="#8880ac" stroke-width="7.4" stroke-opacity="0.58"/><path d="M632.7 181.6L588.0 188.6" stroke="#64acde" stroke-width="7.4" stroke-opacity="0.72"/><path d="M632.7 181.6L588.0 188.6" stroke="#7cc2ec" stroke-width="2.6" stroke-opacity="0.50"/><path d="M588.0 188.6L554.6 193.9" stroke="#8880ac" stroke-width="7.4" stroke-opacity="0.58"/><path d="M632.7 181.6L677.2 186.0" stroke="#64acde" stroke-width="7.4" stroke-opacity="0.72"/><path d="M632.7 181.6L677.2 186.0" stroke="#7cc2ec" stroke-width="2.6" stroke-opacity="0.50"/><path d="M677.2 186.0L710.3 189.3" stroke="#8880ac" stroke-width="7.4" stroke-opacity="0.58"/><circle cx="632.7" cy="181.6" r="23.2" fill="url(#bs0)"/><path d="M635.8 188.7L641.5 201.7" stroke="#5a9ccc" stroke-width="7.2" stroke-linecap="round" stroke-opacity="0.8"/><path d="M641.5 201.7L647.0 214.0" stroke="#9686b2" stroke-width="7.2" stroke-opacity="0.85"/><path d="M634.3 113.2L554.6 193.9M634.3 113.2L710.3 189.3M630.6 266.8L554.6 193.9M630.6 266.8L710.3 189.3M634.3 113.2L647.0 214.0M630.6 266.8L647.0 214.0M554.6 193.9L647.0 214.0M710.3 189.3L647.0 214.0" stroke="#d6d4cc" stroke-width="1" stroke-opacity="0.9" fill="none"/></g><path d="M767.11 420.16L775.04 417.06" stroke="#1f1f1f" stroke-width="1.0" stroke-linecap="round"/><path d="M638.51 421.05L650.09 423.58" stroke="#1f1f1f" stroke-width="1.0" stroke-linecap="round"/><path d="M774.23 112.46L782.14 109.37" stroke="#1f1f1f" stroke-width="1.0" stroke-linecap="round"/><path d="M645.92 113.41L657.47 115.93" stroke="#1f1f1f" stroke-width="1.0" stroke-linecap="round"/><path d="M707.38 420.00L709.81 423.75" stroke="#000" stroke-width="0.01" stroke-linecap="round"/><path d="M553.81 428.30L551.38 424.55" stroke="#000" stroke-width="4.4" stroke-linecap="round"/><path d="M711.01 265.99L713.44 269.74" stroke="#000" stroke-width="4.4" stroke-linecap="round"/><path d="M557.62 274.32L555.19 270.58" stroke="#000" stroke-width="4.4" stroke-linecap="round"/><path d="M759.18 423.27L767.11 420.16" stroke="#1d1d1d" stroke-width="1.0" stroke-linecap="round"/><path d="M650.09 423.58L661.66 426.11" stroke="#1d1d1d" stroke-width="1.0" stroke-linecap="round"/><path d="M766.32 115.56L774.23 112.46" stroke="#1d1d1d" stroke-width="1.0" stroke-linecap="round"/><path d="M657.47 115.93L669.02 118.45" stroke="#1d1d1d" stroke-width="1.0" stroke-linecap="round"/><path d="M709.81 423.75L712.24 427.50" stroke="#000" stroke-width="0.01" stroke-linecap="round"/><path d="M713.44 269.74L715.87 273.48" stroke="#000" stroke-width="4.4" stroke-linecap="round"/><path d="M556.24 432.06L553.81 428.30" stroke="#000" stroke-width="4.4" stroke-linecap="round"/><path d="M560.05 278.07L557.62 274.32" stroke="#000" stroke-width="4.4" stroke-linecap="round"/><path d="M751.25 426.37L759.18 423.27" stroke="#1b1b1b" stroke-width="1.0" stroke-linecap="round"/><path d="M661.66 426.11L673.24 428.64" stroke="#1b1b1b" stroke-width="1.0" stroke-linecap="round"/><path d="M758.41 118.65L766.32 115.56" stroke="#1b1b1b" stroke-width="1.0" stroke-linecap="round"/><path d="M669.02 118.45L680.57 120.96" stroke="#1b1b1b" stroke-width="1.0" stroke-linecap="round"/><path d="M743.33 429.47L751.25 426.37" stroke="#1a1a1a" stroke-width="1.0" stroke-linecap="round"/><path d="M673.24 428.64L684.81 431.17" stroke="#1a1a1a" stroke-width="1.0" stroke-linecap="round"/><path d="M750.50 121.75L758.41 118.65" stroke="#1a1a1a" stroke-width="1.0" stroke-linecap="round"/><path d="M680.57 120.96L692.12 123.48" stroke="#1a1a1a" stroke-width="1.0" stroke-linecap="round"/><path d="M712.24 427.50L714.68 431.26" stroke="#000" stroke-width="0.01" stroke-linecap="round"/><path d="M558.68 435.81L556.24 432.06" stroke="#000" stroke-width="4.4" stroke-linecap="round"/><path d="M715.87 273.48L718.30 277.23" stroke="#000" stroke-width="4.4" stroke-linecap="round"/><path d="M562.47 281.82L560.05 278.07" stroke="#000" stroke-width="4.4" stroke-linecap="round"/><circle cx="782.9" cy="416.3" r="11.8" fill="url(#rd0)"/><path clip-path="url(#nc15)" d="M768.9 403.8L782.9 410.8L796.9 402.8V394.3H768.9Z" fill="#548eb6" fill-opacity="0.78"/><circle cx="862.6" cy="338.5" r="11.8" fill="url(#rd0)"/><circle cx="626.9" cy="420.8" r="11.8" fill="url(#rd0)"/><path clip-path="url(#nc13)" d="M612.9 408.3L626.9 415.3L640.9 407.3V398.8H612.9Z" fill="#548eb6" fill-opacity="0.78"/><circle cx="706.7" cy="343.1" r="11.8" fill="url(#rd0)"/><circle cx="786.5" cy="262.2" r="11.8" fill="url(#rd0)"/><path clip-path="url(#nc14)" d="M772.5 249.7L786.5 256.7L800.5 248.7V240.2H772.5Z" fill="#548eb6" fill-opacity="0.78"/><circle cx="866.1" cy="184.7" r="11.8" fill="url(#rd0)"/><circle cx="550.8" cy="347.7" r="11.8" fill="url(#rd0)"/><circle cx="630.6" cy="266.8" r="11.8" fill="url(#rd0)"/><path clip-path="url(#nc12)" d="M616.6 254.3L630.6 261.3L644.6 253.3V244.8H616.6Z" fill="#548eb6" fill-opacity="0.78"/><circle cx="710.3" cy="189.3" r="11.8" fill="url(#rd0)"/><circle cx="790.0" cy="108.6" r="11.8" fill="url(#rd0)"/><circle cx="554.6" cy="193.9" r="11.8" fill="url(#rd0)"/><circle cx="634.3" cy="113.2" r="11.8" fill="url(#rd0)"/><path d="M735.40 432.57L743.33 429.47" stroke="#181818" stroke-width="1.0" stroke-linecap="round"/><path d="M684.81 431.17L696.39 433.71" stroke="#181818" stroke-width="1.0" stroke-linecap="round"/><path d="M742.59 124.84L750.50 121.75" stroke="#181818" stroke-width="1.0" stroke-linecap="round"/><path d="M692.12 123.48L703.67 126.00" stroke="#181818" stroke-width="1.0" stroke-linecap="round"/><path d="M714.68 431.26L717.11 435.01" stroke="#000" stroke-width="0.01" stroke-linecap="round"/><path d="M561.11 439.57L558.68 435.81" stroke="#000" stroke-width="4.4" stroke-linecap="round"/><path d="M718.30 277.23L720.73 280.98" stroke="#000" stroke-width="4.4" stroke-linecap="round"/><path d="M564.90 285.56L562.47 281.82" stroke="#000" stroke-width="4.4" stroke-linecap="round"/><path d="M727.47 435.67L735.40 432.57" stroke="#161616" stroke-width="1.0" stroke-linecap="round"/><path d="M696.39 433.71L707.97 436.24" stroke="#161616" stroke-width="1.0" stroke-linecap="round"/><path d="M734.68 127.94L742.59 124.84" stroke="#161616" stroke-width="1.0" stroke-linecap="round"/><path d="M703.67 126.00L715.22 128.51" stroke="#161616" stroke-width="1.0" stroke-linecap="round"/><path d="M717.11 435.01L719.54 438.77" stroke="#000" stroke-width="0.01" stroke-linecap="round"/><path d="M563.54 443.32L561.11 439.57" stroke="#000" stroke-width="4.4" stroke-linecap="round"/><path d="M720.73 280.98L723.16 284.73" stroke="#000" stroke-width="4.4" stroke-linecap="round"/><path d="M567.33 289.31L564.90 285.56" stroke="#000" stroke-width="4.4" stroke-linecap="round"/><path d="M719.54 438.77L727.47 435.67" stroke="#141414" stroke-width="1.0" stroke-linecap="round"/><path d="M707.97 436.24L719.54 438.77" stroke="#141414" stroke-width="1.0" stroke-linecap="round"/><path d="M726.78 131.03L734.68 127.94" stroke="#141414" stroke-width="1.0" stroke-linecap="round"/><path d="M715.22 128.51L726.78 131.03" stroke="#141414" stroke-width="1.0" stroke-linecap="round"/><path d="M719.54 438.77L706.54 439.15" stroke="#000" stroke-width="1.6" stroke-linecap="round"/><path d="M719.54 438.77L719.91 423.35" stroke="#000" stroke-width="4.4" stroke-linecap="round"/><path d="M719.54 438.77L720.00 419.50" stroke="#141414" stroke-width="1.0" stroke-linecap="round"/><path d="M706.54 439.15L693.54 439.53" stroke="#000" stroke-width="1.6" stroke-linecap="round"/><path d="M693.54 439.53L680.54 439.91" stroke="#000" stroke-width="1.6" stroke-linecap="round"/><path d="M719.91 423.35L720.27 407.93" stroke="#000" stroke-width="4.4" stroke-linecap="round"/><path d="M720.00 419.50L720.45 400.23" stroke="#141414" stroke-width="1.0" stroke-linecap="round"/><path d="M680.54 439.91L667.53 440.29" stroke="#000" stroke-width="1.6" stroke-linecap="round"/><path d="M667.53 440.29L654.53 440.67" stroke="#000" stroke-width="1.6" stroke-linecap="round"/><path d="M720.27 407.93L720.63 392.52" stroke="#000" stroke-width="4.4" stroke-linecap="round"/><path d="M654.53 440.67L641.53 441.04" stroke="#000" stroke-width="1.6" stroke-linecap="round"/><path d="M720.45 400.23L720.90 380.96" stroke="#141414" stroke-width="1.0" stroke-linecap="round"/><path d="M720.63 392.52L720.99 377.11" stroke="#000" stroke-width="4.4" stroke-linecap="round"/><path d="M641.53 441.04L628.53 441.42" stroke="#000" stroke-width="1.6" stroke-linecap="round"/><path d="M628.53 441.42L615.53 441.80" stroke="#000" stroke-width="1.6" stroke-linecap="round"/><path d="M720.90 380.96L721.36 361.71" stroke="#141414" stroke-width="1.0" stroke-linecap="round"/><path d="M720.99 377.11L721.36 361.71" stroke="#000" stroke-width="4.4" stroke-linecap="round"/><path d="M615.53 441.80L602.53 442.18" stroke="#000" stroke-width="1.6" stroke-linecap="round"/><path d="M602.53 442.18L589.53 442.56" stroke="#000" stroke-width="1.6" stroke-linecap="round"/><path d="M721.36 361.71L721.72 346.30" stroke="#000" stroke-width="4.4" stroke-linecap="round"/><path d="M721.36 361.71L721.81 342.45" stroke="#141414" stroke-width="1.0" stroke-linecap="round"/><path d="M589.53 442.56L576.53 442.94" stroke="#000" stroke-width="1.6" stroke-linecap="round"/><path d="M576.53 442.94L563.54 443.32" stroke="#000" stroke-width="1.6" stroke-linecap="round"/><path d="M721.72 346.30L722.08 330.90" stroke="#000" stroke-width="4.4" stroke-linecap="round"/><path d="M721.81 342.45L722.26 323.21" stroke="#141414" stroke-width="1.0" stroke-linecap="round"/><path d="M563.54 443.32L563.92 427.90" stroke="#000" stroke-width="4.4" stroke-linecap="round"/><path d="M722.08 330.90L722.44 315.51" stroke="#000" stroke-width="4.4" stroke-linecap="round"/><path d="M563.92 427.90L564.30 412.49" stroke="#000" stroke-width="4.4" stroke-linecap="round"/><path d="M722.26 323.21L722.71 303.96" stroke="#141414" stroke-width="1.0" stroke-linecap="round"/><path d="M722.44 315.51L722.80 300.12" stroke="#000" stroke-width="4.4" stroke-linecap="round"/><path d="M564.30 412.49L564.68 397.08" stroke="#000" stroke-width="4.4" stroke-linecap="round"/><path d="M722.71 303.96L723.16 284.73" stroke="#141414" stroke-width="1.0" stroke-linecap="round"/><path d="M722.80 300.12L723.16 284.73" stroke="#000" stroke-width="4.4" stroke-linecap="round"/><path d="M564.68 397.08L565.05 381.67" stroke="#000" stroke-width="4.4" stroke-linecap="round"/><path d="M723.16 284.73L710.18 285.11" stroke="#000" stroke-width="4.4" stroke-linecap="round"/><path d="M723.16 284.73L723.62 265.50" stroke="#141414" stroke-width="1.0" stroke-linecap="round"/><path d="M710.18 285.11L697.19 285.49" stroke="#000" stroke-width="4.4" stroke-linecap="round"/><path d="M565.05 381.67L565.43 366.27" stroke="#000" stroke-width="4.4" stroke-linecap="round"/><path d="M697.19 285.49L684.20 285.87" stroke="#000" stroke-width="4.4" stroke-linecap="round"/><path d="M723.62 265.50L724.07 246.27" stroke="#141414" stroke-width="1.0" stroke-linecap="round"/><path d="M684.20 285.87L671.21 286.26" stroke="#000" stroke-width="4.4" stroke-linecap="round"/><path d="M565.43 366.27L565.81 350.87" stroke="#000" stroke-width="4.4" stroke-linecap="round"/><path d="M671.21 286.26L658.22 286.64" stroke="#000" stroke-width="4.4" stroke-linecap="round"/><path d="M658.22 286.64L645.24 287.02" stroke="#000" stroke-width="4.4" stroke-linecap="round"/><path d="M565.81 350.87L566.19 335.48" stroke="#000" stroke-width="4.4" stroke-linecap="round"/><path d="M724.07 246.27L724.52 227.05" stroke="#141414" stroke-width="1.0" stroke-linecap="round"/><path d="M645.24 287.02L632.25 287.40" stroke="#000" stroke-width="4.4" stroke-linecap="round"/><path d="M566.19 335.48L566.57 320.08" stroke="#000" stroke-width="4.4" stroke-linecap="round"/><path d="M632.25 287.40L619.27 287.78" stroke="#000" stroke-width="4.4" stroke-linecap="round"/><path d="M724.52 227.05L724.97 207.84" stroke="#141414" stroke-width="1.0" stroke-linecap="round"/><path d="M619.27 287.78L606.28 288.17" stroke="#000" stroke-width="4.4" stroke-linecap="round"/><path d="M566.57 320.08L566.95 304.70" stroke="#000" stroke-width="4.4" stroke-linecap="round"/><path d="M606.28 288.17L593.30 288.55" stroke="#000" stroke-width="4.4" stroke-linecap="round"/><path d="M724.97 207.84L725.42 188.63" stroke="#141414" stroke-width="1.0" stroke-linecap="round"/><path d="M593.30 288.55L580.31 288.93" stroke="#000" stroke-width="4.4" stroke-linecap="round"/><path d="M566.95 304.70L567.33 289.31" stroke="#000" stroke-width="4.4" stroke-linecap="round"/><path d="M580.31 288.93L567.33 289.31" stroke="#000" stroke-width="4.4" stroke-linecap="round"/><path d="M725.42 188.63L725.87 169.42" stroke="#141414" stroke-width="1.0" stroke-linecap="round"/><path d="M725.87 169.42L726.32 150.22" stroke="#141414" stroke-width="1.0" stroke-linecap="round"/><path d="M726.32 150.22L726.78 131.03" stroke="#141414" stroke-width="1.0" stroke-linecap="round"/><path d="M705.4 411.5L699.6 398.5" stroke="#000" stroke-width="4.3"/><path d="M694.0 387.4L706.3 398.6L700.0 399.9L693.3 403.3Z" fill="#000"/><circle cx="719.8" cy="427.9" r="28.2" fill="url(#gy0)"/><circle cx="563.8" cy="432.4" r="28.2" fill="url(#gy0)"/><circle cx="723.4" cy="273.9" r="28.2" fill="url(#gy0)"/><circle cx="567.6" cy="278.4" r="28.2" fill="url(#gy0)"/><circle cx="799.3" cy="363.3" r="11.8" fill="url(#rd0)"/><circle cx="643.3" cy="367.9" r="11.8" fill="url(#rd0)"/><circle cx="802.8" cy="209.4" r="11.8" fill="url(#rd0)"/><circle cx="647.0" cy="214.0" r="11.8" fill="url(#rd0)"/><path d="M725.2 246.0L726.7 154.0" stroke="#e8193c" stroke-width="3.4"/><path d="M726.8 131.6L715.2 159.4L726.8 154.6L738.2 159.4Z" fill="#e8193c"/><path d="M746.0 428.3L808.0 403.9" stroke="#e8193c" stroke-width="3.0"/><path d="M829.2 395.6L798.0 395.0L806.6 404.6L806.3 416.6Z" fill="#e8193c"/><path d="M693.0 432.7L581.0 407.0" stroke="#e8193c" stroke-width="3.0"/><path d="M557.8 402.8L587.2 397.2L580.6 407.2L581.8 420.2Z" fill="#e8193c"/><path d="M720.4 404.0L721.6 315.0" stroke="#000" stroke-width="3.9"/><path d="M722.3 300.6L715.0 318.2L722.1 314.6L729.4 318.2Z" fill="#000"/><path d="M694.0 437.4L603.0 439.5" stroke="#000" stroke-width="3.3"/><path d="M589.4 439.7L605.2 432.8L602.2 439.6L605.2 446.2Z" fill="#000"/><text transform="translate(652.60 414.50) scale(0.952 1)" x="-0.40" y="0" style="font-family:'Liberation Serif',serif;font-style:italic;font-weight:bold;font-size:40.00px;fill:#000">a</text><text transform="translate(675.90 426.80) scale(0.824 1)" x="-0.75" y="0" style="font-family:'Liberation Serif',serif;font-style:italic;font-size:21.53px;fill:#000">1</text><text transform="translate(651.50 456.53) scale(1.374 1)" x="-0.27" y="0" style="font-family:'Liberation Serif',serif;font-style:italic;font-weight:bold;font-size:27.08px;fill:#000">a</text><text transform="translate(668.80 466.70) scale(0.862 1)" x="-0.00" y="0" style="font-family:'Liberation Serif',serif;font-style:italic;font-size:17.88px;fill:#000">2</text><text transform="translate(725.80 399.06) scale(1.077 1)" x="-0.34" y="0" style="font-family:'Liberation Serif',serif;font-style:italic;font-weight:bold;font-size:33.96px;fill:#000">a</text><text transform="translate(745.70 411.80) scale(1.018 1)" x="-0.00" y="0" style="font-family:'Liberation Serif',serif;font-style:italic;font-size:19.85px;fill:#000">3</text><text transform="translate(814.30 439.23) scale(1.026 1)" x="-0.47" y="0" style="font-family:'Liberation Serif',serif;font-style:italic;font-weight:bold;font-size:31.49px;fill:#e8193c">b</text><text transform="translate(831.50 449.90) scale(1.177 1)" x="-0.68" y="0" style="font-family:'Liberation Serif',serif;font-style:italic;font-size:19.39px;fill:#e8193c">1</text><text transform="translate(536.40 389.43) scale(1.042 1)" x="-0.47" y="0" style="font-family:'Liberation Serif',serif;font-style:italic;font-weight:bold;font-size:31.21px;fill:#e8193c">b</text><text transform="translate(552.80 400.70) scale(0.917 1)" x="-0.00" y="0" style="font-family:'Liberation Serif',serif;font-style:italic;font-size:18.64px;fill:#e8193c">2</text><text transform="translate(739.40 194.82) scale(1.022 1)" x="-0.48" y="0" style="font-family:'Liberation Serif',serif;font-style:italic;font-weight:bold;font-size:32.06px;fill:#e8193c">b</text><text transform="translate(755.80 205.81) scale(0.979 1)" x="-0.00" y="0" style="font-family:'Liberation Serif',serif;font-style:italic;font-size:19.10px;fill:#e8193c">3</text></g>
</svg></body></html>
